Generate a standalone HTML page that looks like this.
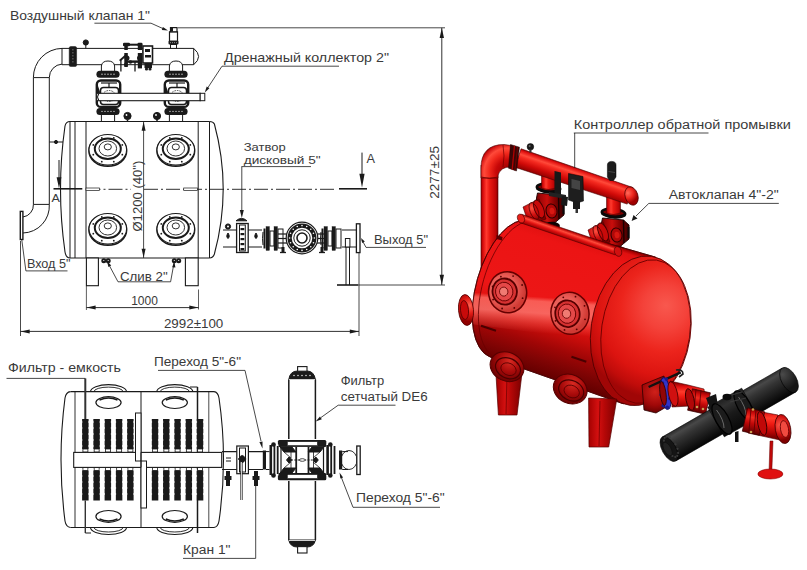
<!DOCTYPE html>
<html><head><meta charset="utf-8"><style>
html,body{margin:0;padding:0;background:#fff;overflow:hidden}
svg{display:block}
text{font-family:"Liberation Sans",sans-serif;fill:#3a3a3a}
</style></head><body>
<svg width="807" height="570" viewBox="0 0 807 570">
<defs><linearGradient id="gv" gradientUnits="userSpaceOnUse" x1="481.0" y1="0.0" x2="498.0" y2="0.0"><stop offset="0" stop-color="#a00000"/><stop offset="0.12" stop-color="#d80c0c"/><stop offset="0.32" stop-color="#ff3a2e"/><stop offset="0.5" stop-color="#ea1a12"/><stop offset="0.85" stop-color="#c00606"/><stop offset="1" stop-color="#880000"/></linearGradient>
<radialGradient id="gel" gradientUnits="userSpaceOnUse" cx="508" cy="172" r="30"><stop offset="0" stop-color="#900000"/><stop offset="0.4" stop-color="#c80808"/><stop offset="0.62" stop-color="#f0281c"/><stop offset="0.8" stop-color="#ff4a3a"/><stop offset="0.95" stop-color="#d01010"/><stop offset="1" stop-color="#a00000"/></radialGradient>
<linearGradient id="rln" gradientUnits="userSpaceOnUse" x1="541.5" y1="0.0" x2="555.5" y2="0.0"><stop offset="0" stop-color="#a00000"/><stop offset="0.12" stop-color="#d80c0c"/><stop offset="0.32" stop-color="#ff3a2e"/><stop offset="0.5" stop-color="#ea1a12"/><stop offset="0.85" stop-color="#c00606"/><stop offset="1" stop-color="#880000"/></linearGradient>
<linearGradient id="rlb" gradientUnits="userSpaceOnUse" x1="534.5" y1="0.0" x2="564.5" y2="0.0"><stop offset="0" stop-color="#5a0000"/><stop offset="0.2" stop-color="#a00606"/><stop offset="0.42" stop-color="#c80e0c"/><stop offset="0.65" stop-color="#8a0202"/><stop offset="1" stop-color="#380000"/></linearGradient>
<linearGradient id="rrn" gradientUnits="userSpaceOnUse" x1="606.5" y1="0.0" x2="620.5" y2="0.0"><stop offset="0" stop-color="#a00000"/><stop offset="0.12" stop-color="#d80c0c"/><stop offset="0.32" stop-color="#ff3a2e"/><stop offset="0.5" stop-color="#ea1a12"/><stop offset="0.85" stop-color="#c00606"/><stop offset="1" stop-color="#880000"/></linearGradient>
<linearGradient id="rrb" gradientUnits="userSpaceOnUse" x1="599.5" y1="0.0" x2="629.5" y2="0.0"><stop offset="0" stop-color="#5a0000"/><stop offset="0.2" stop-color="#a00606"/><stop offset="0.42" stop-color="#c80e0c"/><stop offset="0.65" stop-color="#8a0202"/><stop offset="1" stop-color="#380000"/></linearGradient>
<radialGradient id="gstub" gradientUnits="userSpaceOnUse" cx="532" cy="208" r="14"><stop offset="0" stop-color="#ff5040"/><stop offset="0.5" stop-color="#d01010"/><stop offset="1" stop-color="#800000"/></radialGradient>
<radialGradient id="gstub2" gradientUnits="userSpaceOnUse" cx="596" cy="231" r="14"><stop offset="0" stop-color="#ff5040"/><stop offset="0.5" stop-color="#d01010"/><stop offset="1" stop-color="#800000"/></radialGradient>
<linearGradient id="gman" gradientUnits="userSpaceOnUse" x1="521.1" y1="148.8" x2="514.9" y2="167.2"><stop offset="0" stop-color="#a00000"/><stop offset="0.1" stop-color="#e01010"/><stop offset="0.28" stop-color="#ff4a3a"/><stop offset="0.42" stop-color="#f42a20"/><stop offset="0.7" stop-color="#d00a08"/><stop offset="1" stop-color="#900000"/></linearGradient>
<radialGradient id="gcap" gradientUnits="userSpaceOnUse" cx="629" cy="192" r="10"><stop offset="0" stop-color="#ff6a5a"/><stop offset="0.5" stop-color="#f02a20"/><stop offset="1" stop-color="#a00000"/></radialGradient>
<linearGradient id="gbody" gradientUnits="userSpaceOnUse" x1="592.4" y1="239.0" x2="548.8" y2="377.6"><stop offset="0" stop-color="#a00000"/><stop offset="0.025" stop-color="#e01010"/><stop offset="0.1" stop-color="#ec1414"/><stop offset="0.5" stop-color="#ec1616"/><stop offset="0.6" stop-color="#e01210"/><stop offset="0.7" stop-color="#c40c0a"/><stop offset="0.8" stop-color="#a00606"/><stop offset="0.9" stop-color="#800404"/><stop offset="1" stop-color="#640000"/></linearGradient>
<clipPath id="cbody"><path d="M529.1,220.7 L655.7,257.2 L623.5,403.8 L490.2,357.0 A34.5,70.9 15.4 0 1 529.1,220.7 Z"/></clipPath>
<linearGradient id="gstreak" gradientUnits="userSpaceOnUse" x1="540" y1="297" x2="537.5" y2="333"><stop offset="0" stop-color="#ff7a70" stop-opacity="0"/><stop offset="0.12" stop-color="#ff7a70" stop-opacity="0.7"/><stop offset="0.45" stop-color="#ff8078" stop-opacity="0.75"/><stop offset="0.75" stop-color="#ff6a60" stop-opacity="0.35"/><stop offset="1" stop-color="#ff6a60" stop-opacity="0"/></linearGradient>
<radialGradient id="gcapR" gradientUnits="userSpaceOnUse" cx="660" cy="308" r="88" fx="662" fy="302"><stop offset="0" stop-color="#f8584e"/><stop offset="0.25" stop-color="#f4423a"/><stop offset="0.5" stop-color="#ec241c"/><stop offset="0.75" stop-color="#dc1410"/><stop offset="0.9" stop-color="#c00c0a"/><stop offset="1" stop-color="#a00606"/></radialGradient>
<linearGradient id="gcol" gradientUnits="userSpaceOnUse" x1="522.4" y1="214.5" x2="519.6" y2="222.5"><stop offset="0" stop-color="#b00000"/><stop offset="0.3" stop-color="#ff4a3a"/><stop offset="0.6" stop-color="#e01010"/><stop offset="1" stop-color="#900000"/></linearGradient>
<radialGradient id="gmh1" gradientUnits="userSpaceOnUse" cx="503.6" cy="288.3" r="22"><stop offset="0" stop-color="#f27a74"/><stop offset="0.6" stop-color="#ea5c56"/><stop offset="1" stop-color="#d03a34"/></radialGradient>
<radialGradient id="gmh2" gradientUnits="userSpaceOnUse" cx="566" cy="309.3" r="22"><stop offset="0" stop-color="#f27a74"/><stop offset="0.6" stop-color="#ea5c56"/><stop offset="1" stop-color="#d03a34"/></radialGradient>
<linearGradient id="gleg" gradientUnits="userSpaceOnUse" x1="496.0" y1="0.0" x2="522.0" y2="0.0"><stop offset="0" stop-color="#a00000"/><stop offset="0.35" stop-color="#d41010"/><stop offset="0.55" stop-color="#b80808"/><stop offset="1" stop-color="#7a0000"/></linearGradient>
<linearGradient id="gleg2" gradientUnits="userSpaceOnUse" x1="588.0" y1="0.0" x2="617.0" y2="0.0"><stop offset="0" stop-color="#a00000"/><stop offset="0.35" stop-color="#d41010"/><stop offset="0.55" stop-color="#b80808"/><stop offset="1" stop-color="#7a0000"/></linearGradient>
<radialGradient id="glm1" gradientUnits="userSpaceOnUse" cx="507" cy="360.7" r="22"><stop offset="0" stop-color="#d82a22"/><stop offset="0.5" stop-color="#a80a0a"/><stop offset="1" stop-color="#600000"/></radialGradient>
<radialGradient id="glm2" gradientUnits="userSpaceOnUse" cx="570.2" cy="383" r="22"><stop offset="0" stop-color="#d82a22"/><stop offset="0.5" stop-color="#a80a0a"/><stop offset="1" stop-color="#600000"/></radialGradient>
<radialGradient id="gin" gradientUnits="userSpaceOnUse" cx="470" cy="306" r="16"><stop offset="0" stop-color="#ff6050"/><stop offset="0.5" stop-color="#e01a14"/><stop offset="1" stop-color="#900000"/></radialGradient>
<radialGradient id="gout" gradientUnits="userSpaceOnUse" cx="655" cy="392" r="22"><stop offset="0" stop-color="#d0201a"/><stop offset="0.6" stop-color="#a00808"/><stop offset="1" stop-color="#600000"/></radialGradient>
<linearGradient id="gop1" gradientUnits="userSpaceOnUse" x1="0.0" y1="383.0" x2="0.0" y2="408.0"><stop offset="0" stop-color="#900000"/><stop offset="0.15" stop-color="#e01010"/><stop offset="0.35" stop-color="#ff3a2a"/><stop offset="0.55" stop-color="#f01a12"/><stop offset="0.85" stop-color="#b00404"/><stop offset="1" stop-color="#800000"/></linearGradient>
<linearGradient id="gcpl1" gradientUnits="userSpaceOnUse" x1="692.4" y1="388.8" x2="687.6" y2="410.2"><stop offset="0" stop-color="#800000"/><stop offset="0.15" stop-color="#c80a0a"/><stop offset="0.35" stop-color="#f02a20"/><stop offset="0.6" stop-color="#c00808"/><stop offset="1" stop-color="#600000"/></linearGradient>
<linearGradient id="gfilt" gradientUnits="userSpaceOnUse" x1="662.1" y1="437.1" x2="675.9" y2="460.9"><stop offset="0" stop-color="#2a2a2a"/><stop offset="0.15" stop-color="#484848"/><stop offset="0.35" stop-color="#343434"/><stop offset="0.65" stop-color="#1e1e1e"/><stop offset="0.9" stop-color="#0c0c0c"/><stop offset="1" stop-color="#050505"/></linearGradient>
<radialGradient id="gfe" gradientUnits="userSpaceOnUse" cx="786" cy="372" r="16"><stop offset="0" stop-color="#4a4a4a"/><stop offset="0.6" stop-color="#2a2a2a"/><stop offset="1" stop-color="#151515"/></radialGradient>
<linearGradient id="ghub" gradientUnits="userSpaceOnUse" x1="707.7" y1="407.2" x2="724.3" y2="436.8"><stop offset="0" stop-color="#202020"/><stop offset="0.2" stop-color="#303030"/><stop offset="0.5" stop-color="#1a1a1a"/><stop offset="1" stop-color="#080808"/></linearGradient>
<linearGradient id="gop2" gradientUnits="userSpaceOnUse" x1="0.0" y1="408.0" x2="0.0" y2="437.0"><stop offset="0" stop-color="#900000"/><stop offset="0.15" stop-color="#e01010"/><stop offset="0.35" stop-color="#ff3a2a"/><stop offset="0.55" stop-color="#f01a12"/><stop offset="0.85" stop-color="#b00404"/><stop offset="1" stop-color="#800000"/></linearGradient>
<linearGradient id="gcpl2" gradientUnits="userSpaceOnUse" x1="747.7" y1="407.8" x2="742.3" y2="431.2"><stop offset="0" stop-color="#800000"/><stop offset="0.15" stop-color="#c80a0a"/><stop offset="0.35" stop-color="#f02a20"/><stop offset="0.6" stop-color="#c00808"/><stop offset="1" stop-color="#600000"/></linearGradient>
<radialGradient id="gfl" gradientUnits="userSpaceOnUse" cx="781" cy="425" r="15"><stop offset="0" stop-color="#ff5a4a"/><stop offset="0.6" stop-color="#d01010"/><stop offset="1" stop-color="#800000"/></radialGradient></defs>
<g id="side">
<path d="M33.4,77.6 L33.4,204.4 M49.3,77.6 L49.3,204.4 M33.4,77.6 L49.3,77.6 M33.4,204.4 L49.3,204.4" stroke="#1a1a1a" stroke-width="1" fill="none"/>
<path d="M33.4,77.6 A29,29 0 0 1 62,48.4 M49.3,77.6 A13.5,13.5 0 0 1 62,64.1" stroke="#1a1a1a" stroke-width="1" fill="none"/>
<path d="M33.4,204.4 A12,12 0 0 1 22.9,217 M49.3,204.4 A27,27 0 0 1 22.9,233" stroke="#1a1a1a" stroke-width="1" fill="none"/>
<rect x="20.3" y="211.4" width="2.6" height="28.1" fill="#fff" stroke="#1a1a1a" stroke-width="1.4"/>
<line x1="49.3" y1="142" x2="63" y2="142" stroke="#1a1a1a" stroke-width="1"/>
<circle cx="56" cy="142" r="1.6" fill="#1a1a1a" stroke="#1a1a1a" stroke-width="1"/>
<path d="M62,48.4 L193.7,48.4 M62,64.7 L193.7,64.7 M62,48.4 L62,64.7 M193.7,48.4 L193.7,64.7 M193.7,48.4 Q203.5,56.5 193.7,64.7" stroke="#1a1a1a" stroke-width="1" fill="none"/>
<rect x="69.2" y="46.5" width="7.4" height="20" fill="#1a1a1a" stroke="#1a1a1a" stroke-width="0.5" rx="1.5"/>
<line x1="72.9" y1="49" x2="72.9" y2="64" stroke="#888" stroke-width="0.8" stroke-dasharray="1.5,1.5"/>
<line x1="85.8" y1="44" x2="85.8" y2="48.4" stroke="#1a1a1a" stroke-width="1"/>
<circle cx="85.8" cy="42.5" r="2.6" fill="#1a1a1a" stroke="#1a1a1a" stroke-width="1"/>
<rect x="169.5" y="31.8" width="8" height="9.5" fill="#fff" stroke="#1a1a1a" stroke-width="1.2"/>
<rect x="168.5" y="40.8" width="10" height="3.8" fill="#1a1a1a" stroke="#1a1a1a" stroke-width="0" rx="1"/>
<circle cx="170.5" cy="42.7" r="0.45" fill="#fff" stroke="none" stroke-width="1"/>
<circle cx="172.5" cy="42.7" r="0.45" fill="#fff" stroke="none" stroke-width="1"/>
<circle cx="174.5" cy="42.7" r="0.45" fill="#fff" stroke="none" stroke-width="1"/>
<circle cx="176.5" cy="42.7" r="0.45" fill="#fff" stroke="none" stroke-width="1"/>
<rect x="170.5" y="44.5" width="6" height="3.9" fill="#fff" stroke="#1a1a1a" stroke-width="1"/>
<rect x="170.5" y="27.6" width="6.5" height="4.2" fill="#fff" stroke="#1a1a1a" stroke-width="1.2"/>
<rect x="170.5" y="28" width="2.5" height="3.5" fill="#1a1a1a" stroke="#1a1a1a" stroke-width="0"/>
<line x1="178" y1="27.8" x2="445" y2="27.8" stroke="#1a1a1a" stroke-width="0.8"/>
<path d="M94.4,23.2 L151,23.2 L165,29.5" stroke="#1a1a1a" stroke-width="0.8" fill="none"/>
<path d="M168.0,30.6 L161.8,30.1 L162.9,27.0Z" fill="#1a1a1a"/>
<rect x="123.2" y="43.7" width="19" height="2" fill="#1a1a1a" stroke="#1a1a1a" stroke-width="0"/>
<rect x="123" y="42.8" width="7" height="3.5" fill="#1a1a1a" stroke="#1a1a1a" stroke-width="0" rx="1.2"/>
<rect x="137.5" y="42.8" width="5" height="3.5" fill="#1a1a1a" stroke="#1a1a1a" stroke-width="0" rx="1.2"/>
<rect x="124.3" y="45" width="3.5" height="5" fill="#1a1a1a" stroke="#1a1a1a" stroke-width="0"/>
<rect x="124.3" y="53" width="3.5" height="14" fill="#1a1a1a" stroke="#1a1a1a" stroke-width="0"/>
<rect x="137.8" y="45" width="4.2" height="5" fill="#1a1a1a" stroke="#1a1a1a" stroke-width="0"/>
<rect x="137.8" y="53" width="4.2" height="15.4" fill="#1a1a1a" stroke="#1a1a1a" stroke-width="0"/>
<rect x="142.9" y="46" width="9.6" height="17" fill="#fff" stroke="#1a1a1a" stroke-width="1.6"/>
<rect x="145" y="49" width="5" height="3" fill="#1a1a1a" stroke="#1a1a1a" stroke-width="0"/>
<rect x="145" y="55" width="6" height="2.5" fill="#1a1a1a" stroke="#1a1a1a" stroke-width="0"/>
<rect x="144.5" y="63" width="7.5" height="5" fill="#1a1a1a" stroke="#1a1a1a" stroke-width="0"/>
<circle cx="146.5" cy="69" r="1.6" fill="#1a1a1a" stroke="none" stroke-width="1"/>
<circle cx="150" cy="69" r="1.6" fill="#1a1a1a" stroke="none" stroke-width="1"/>
<rect x="125" y="60.4" width="17" height="2.4" fill="#1a1a1a" stroke="#1a1a1a" stroke-width="0"/>
<path d="M119.7,60.7 L125.9,55.3" stroke="#1a1a1a" stroke-width="1.8" fill="none"/>
<line x1="120.9" y1="60" x2="120.9" y2="71.5" stroke="#1a1a1a" stroke-width="1.3"/>
<line x1="135" y1="62" x2="135" y2="71.5" stroke="#1a1a1a" stroke-width="1.3"/>
<circle cx="127" cy="58" r="2.5" fill="#1a1a1a" stroke="none" stroke-width="1"/>
<circle cx="139.5" cy="58" r="2.5" fill="#1a1a1a" stroke="none" stroke-width="1"/>
<circle cx="126" cy="64.5" r="2" fill="#1a1a1a" stroke="none" stroke-width="1"/>
<circle cx="140" cy="65.5" r="2" fill="#1a1a1a" stroke="none" stroke-width="1"/>
<circle cx="130.5" cy="62" r="1.8" fill="#1a1a1a" stroke="none" stroke-width="1"/>
<path d="M101.4,71.4 L101.4,66 Q102,61 108,61 Q114,61 114.6,66 L114.6,71.4" stroke="#1a1a1a" stroke-width="1" fill="#fff"/>
<rect x="96.4" y="70.8" width="23.2" height="7" fill="#1a1a1a" stroke="#1a1a1a" stroke-width="0" rx="3.5"/>
<circle cx="102" cy="74.2" r="0.6" fill="#fff" stroke="none" stroke-width="1"/>
<circle cx="105" cy="74.2" r="0.6" fill="#fff" stroke="none" stroke-width="1"/>
<circle cx="108" cy="74.2" r="0.6" fill="#fff" stroke="none" stroke-width="1"/>
<circle cx="111" cy="74.2" r="0.6" fill="#fff" stroke="none" stroke-width="1"/>
<circle cx="114" cy="74.2" r="0.6" fill="#fff" stroke="none" stroke-width="1"/>
<rect x="96.8" y="80.5" width="23.4" height="26.4" fill="#fff" stroke="#1a1a1a" stroke-width="2.4" rx="4"/>
<path d="M97,86 L99,92 L97,100" stroke="#1a1a1a" stroke-width="2" fill="none"/>
<line x1="101" y1="83" x2="117" y2="83" stroke="#1a1a1a" stroke-width="1.2"/>
<line x1="109" y1="83" x2="109" y2="88" stroke="#1a1a1a" stroke-width="1.2"/>
<rect x="100.5" y="87.5" width="18" height="17" fill="#fff" stroke="#1a1a1a" stroke-width="1.5" rx="3"/>
<ellipse cx="109" cy="96" rx="6.5" ry="5.5" fill="none" stroke="#1a1a1a" stroke-width="0.8" stroke-dasharray="1.5,1"/>
<rect x="96.4" y="108" width="23.2" height="7" fill="#1a1a1a" stroke="#1a1a1a" stroke-width="0" rx="3.5"/>
<circle cx="102" cy="111.3" r="0.6" fill="#fff" stroke="none" stroke-width="1"/>
<circle cx="105" cy="111.3" r="0.6" fill="#fff" stroke="none" stroke-width="1"/>
<circle cx="108" cy="111.3" r="0.6" fill="#fff" stroke="none" stroke-width="1"/>
<circle cx="111" cy="111.3" r="0.6" fill="#fff" stroke="none" stroke-width="1"/>
<circle cx="114" cy="111.3" r="0.6" fill="#fff" stroke="none" stroke-width="1"/>
<path d="M101.4,114.2 L101.4,121.5 M114.6,114.2 L114.6,121.5" stroke="#1a1a1a" stroke-width="1" fill="none"/>
<path d="M169.4,71.4 L169.4,66 Q170,61 176,61 Q182,61 182.6,66 L182.6,71.4" stroke="#1a1a1a" stroke-width="1" fill="#fff"/>
<rect x="164.4" y="70.8" width="23.2" height="7" fill="#1a1a1a" stroke="#1a1a1a" stroke-width="0" rx="3.5"/>
<circle cx="170" cy="74.2" r="0.6" fill="#fff" stroke="none" stroke-width="1"/>
<circle cx="173" cy="74.2" r="0.6" fill="#fff" stroke="none" stroke-width="1"/>
<circle cx="176" cy="74.2" r="0.6" fill="#fff" stroke="none" stroke-width="1"/>
<circle cx="179" cy="74.2" r="0.6" fill="#fff" stroke="none" stroke-width="1"/>
<circle cx="182" cy="74.2" r="0.6" fill="#fff" stroke="none" stroke-width="1"/>
<rect x="164.8" y="80.5" width="23.4" height="26.4" fill="#fff" stroke="#1a1a1a" stroke-width="2.4" rx="4"/>
<path d="M165,86 L167,92 L165,100" stroke="#1a1a1a" stroke-width="2" fill="none"/>
<line x1="169" y1="83" x2="185" y2="83" stroke="#1a1a1a" stroke-width="1.2"/>
<line x1="177" y1="83" x2="177" y2="88" stroke="#1a1a1a" stroke-width="1.2"/>
<rect x="168.5" y="87.5" width="18" height="17" fill="#fff" stroke="#1a1a1a" stroke-width="1.5" rx="3"/>
<ellipse cx="177" cy="96" rx="6.5" ry="5.5" fill="none" stroke="#1a1a1a" stroke-width="0.8" stroke-dasharray="1.5,1"/>
<rect x="164.4" y="108" width="23.2" height="7" fill="#1a1a1a" stroke="#1a1a1a" stroke-width="0" rx="3.5"/>
<circle cx="170" cy="111.3" r="0.6" fill="#fff" stroke="none" stroke-width="1"/>
<circle cx="173" cy="111.3" r="0.6" fill="#fff" stroke="none" stroke-width="1"/>
<circle cx="176" cy="111.3" r="0.6" fill="#fff" stroke="none" stroke-width="1"/>
<circle cx="179" cy="111.3" r="0.6" fill="#fff" stroke="none" stroke-width="1"/>
<circle cx="182" cy="111.3" r="0.6" fill="#fff" stroke="none" stroke-width="1"/>
<path d="M169.4,114.2 L169.4,121.5 M182.6,114.2 L182.6,121.5" stroke="#1a1a1a" stroke-width="1" fill="none"/>
<rect x="96.7" y="93.3" width="103.5" height="7.4" fill="#fff" stroke="#1a1a1a" stroke-width="1.1"/>
<rect x="200.2" y="93.3" width="4.6" height="7.4" fill="#fff" stroke="#1a1a1a" stroke-width="1"/>
<path d="M99,93.3 Q96,97 99,100.7" stroke="#1a1a1a" stroke-width="1" fill="none"/>
<path d="M339,66.2 L222,66.2 L207,89" stroke="#1a1a1a" stroke-width="0.8" fill="none"/>
<path d="M204.8,92.5 L206.7,86.6 L209.4,88.3Z" fill="#1a1a1a"/>
<circle cx="127.5" cy="116" r="3.6" fill="#1a1a1a" stroke="#1a1a1a" stroke-width="1"/>
<circle cx="126.5" cy="115" r="0.9" fill="#fff" stroke="none" stroke-width="1"/>
<line x1="127.5" y1="119.5" x2="127.5" y2="121.5" stroke="#1a1a1a" stroke-width="1.5"/>
<circle cx="157" cy="116" r="3.6" fill="#1a1a1a" stroke="#1a1a1a" stroke-width="1"/>
<circle cx="156" cy="115" r="0.9" fill="#fff" stroke="none" stroke-width="1"/>
<line x1="157" y1="119.5" x2="157" y2="121.5" stroke="#1a1a1a" stroke-width="1.5"/>
<path d="M70,121.5 L209.5,121.5 M70,258 L209.5,258" stroke="#1a1a1a" stroke-width="1.1" fill="none"/>
<path d="M70,121.5 Q66,121.5 65,126 Q56,189 65,252 Q66,258 70,258" stroke="#1a1a1a" stroke-width="1.1" fill="none"/>
<path d="M209.5,121.5 Q213,121.5 214.4,124 Q232,189 214.4,254 Q213,258 209.5,258" stroke="#1a1a1a" stroke-width="1.1" fill="none"/>
<line x1="70" y1="121.5" x2="70" y2="258" stroke="#1a1a1a" stroke-width="1"/>
<line x1="75" y1="121.5" x2="75" y2="258" stroke="#1a1a1a" stroke-width="1"/>
<line x1="86" y1="121.5" x2="86" y2="258" stroke="#1a1a1a" stroke-width="1"/>
<line x1="198.2" y1="121.5" x2="198.2" y2="258" stroke="#1a1a1a" stroke-width="1"/>
<line x1="209.5" y1="121.5" x2="209.5" y2="258" stroke="#1a1a1a" stroke-width="1"/>
<line x1="86.5" y1="189.3" x2="131" y2="189.3" stroke="#1a1a1a" stroke-width="0.9" stroke-dasharray="14,3,2,3"/>
<line x1="144" y1="189.3" x2="335" y2="189.3" stroke="#1a1a1a" stroke-width="0.9" stroke-dasharray="14,3,2,3"/>
<line x1="53.5" y1="188.8" x2="82.3" y2="188.8" stroke="#1a1a1a" stroke-width="1.6"/>
<line x1="339" y1="188.8" x2="367" y2="188.8" stroke="#1a1a1a" stroke-width="1.6"/>
<rect x="86" y="188" width="13.5" height="2.5" fill="#fff" stroke="#1a1a1a" stroke-width="0.7"/>
<rect x="183.7" y="188" width="13.7" height="2.5" fill="#fff" stroke="#1a1a1a" stroke-width="0.7"/>
<line x1="59" y1="160" x2="59" y2="178" stroke="#1a1a1a" stroke-width="1"/>
<path d="M59.0,188.3 L56.6,177.3 L61.4,177.3Z" fill="#1a1a1a"/>
<line x1="362" y1="152.6" x2="362" y2="176" stroke="#1a1a1a" stroke-width="1"/>
<path d="M362.0,187.7 L359.4,173.7 L364.6,173.7Z" fill="#1a1a1a"/>
<ellipse cx="107.8" cy="151.0" rx="18.8" ry="15.3" fill="#fff" stroke="#1a1a1a" stroke-width="1.6"/>
<ellipse cx="107.8" cy="149.8" rx="18.8" ry="15.3" fill="#fff" stroke="#1a1a1a" stroke-width="1.1"/>
<ellipse cx="107.8" cy="148.7" rx="13" ry="10.3" fill="none" stroke="#1a1a1a" stroke-width="2"/>
<ellipse cx="107.8" cy="148.5" rx="8.8" ry="7.5" fill="none" stroke="#1a1a1a" stroke-width="0.9"/>
<ellipse cx="107.8" cy="146.9" rx="3.6" ry="3" fill="none" stroke="#1a1a1a" stroke-width="0.9"/>
<circle cx="122.3049086604272" cy="154.69834793427316" r="0.9" fill="#1a1a1a" stroke="none" stroke-width="1"/>
<circle cx="113.8081298881319" cy="161.62565801614448" r="0.9" fill="#1a1a1a" stroke="none" stroke-width="1"/>
<circle cx="101.79187011186809" cy="161.62565801614448" r="0.9" fill="#1a1a1a" stroke="none" stroke-width="1"/>
<circle cx="93.29509133957279" cy="154.69834793427316" r="0.9" fill="#1a1a1a" stroke="none" stroke-width="1"/>
<circle cx="93.29509133957279" cy="144.90165206572686" r="0.9" fill="#1a1a1a" stroke="none" stroke-width="1"/>
<circle cx="101.79187011186809" cy="137.97434198385554" r="0.9" fill="#1a1a1a" stroke="none" stroke-width="1"/>
<circle cx="113.80812988813192" cy="137.97434198385554" r="0.9" fill="#1a1a1a" stroke="none" stroke-width="1"/>
<circle cx="122.3049086604272" cy="144.90165206572686" r="0.9" fill="#1a1a1a" stroke="none" stroke-width="1"/>
<ellipse cx="107.8" cy="230.0" rx="18.8" ry="15.3" fill="#fff" stroke="#1a1a1a" stroke-width="1.6"/>
<ellipse cx="107.8" cy="228.8" rx="18.8" ry="15.3" fill="#fff" stroke="#1a1a1a" stroke-width="1.1"/>
<ellipse cx="107.8" cy="227.7" rx="13" ry="10.3" fill="none" stroke="#1a1a1a" stroke-width="2"/>
<ellipse cx="107.8" cy="227.5" rx="8.8" ry="7.5" fill="none" stroke="#1a1a1a" stroke-width="0.9"/>
<ellipse cx="107.8" cy="225.9" rx="3.6" ry="3" fill="none" stroke="#1a1a1a" stroke-width="0.9"/>
<circle cx="122.3049086604272" cy="233.69834793427316" r="0.9" fill="#1a1a1a" stroke="none" stroke-width="1"/>
<circle cx="113.8081298881319" cy="240.62565801614448" r="0.9" fill="#1a1a1a" stroke="none" stroke-width="1"/>
<circle cx="101.79187011186809" cy="240.62565801614448" r="0.9" fill="#1a1a1a" stroke="none" stroke-width="1"/>
<circle cx="93.29509133957279" cy="233.69834793427316" r="0.9" fill="#1a1a1a" stroke="none" stroke-width="1"/>
<circle cx="93.29509133957279" cy="223.90165206572686" r="0.9" fill="#1a1a1a" stroke="none" stroke-width="1"/>
<circle cx="101.79187011186809" cy="216.97434198385554" r="0.9" fill="#1a1a1a" stroke="none" stroke-width="1"/>
<circle cx="113.80812988813192" cy="216.97434198385554" r="0.9" fill="#1a1a1a" stroke="none" stroke-width="1"/>
<circle cx="122.3049086604272" cy="223.90165206572686" r="0.9" fill="#1a1a1a" stroke="none" stroke-width="1"/>
<ellipse cx="175.8" cy="151.0" rx="18.8" ry="15.3" fill="#fff" stroke="#1a1a1a" stroke-width="1.6"/>
<ellipse cx="175.8" cy="149.8" rx="18.8" ry="15.3" fill="#fff" stroke="#1a1a1a" stroke-width="1.1"/>
<ellipse cx="175.8" cy="148.7" rx="13" ry="10.3" fill="none" stroke="#1a1a1a" stroke-width="2"/>
<ellipse cx="175.8" cy="148.5" rx="8.8" ry="7.5" fill="none" stroke="#1a1a1a" stroke-width="0.9"/>
<ellipse cx="175.8" cy="146.9" rx="3.6" ry="3" fill="none" stroke="#1a1a1a" stroke-width="0.9"/>
<circle cx="190.3049086604272" cy="154.69834793427316" r="0.9" fill="#1a1a1a" stroke="none" stroke-width="1"/>
<circle cx="181.80812988813193" cy="161.62565801614448" r="0.9" fill="#1a1a1a" stroke="none" stroke-width="1"/>
<circle cx="169.7918701118681" cy="161.62565801614448" r="0.9" fill="#1a1a1a" stroke="none" stroke-width="1"/>
<circle cx="161.29509133957282" cy="154.69834793427316" r="0.9" fill="#1a1a1a" stroke="none" stroke-width="1"/>
<circle cx="161.29509133957282" cy="144.90165206572686" r="0.9" fill="#1a1a1a" stroke="none" stroke-width="1"/>
<circle cx="169.7918701118681" cy="137.97434198385554" r="0.9" fill="#1a1a1a" stroke="none" stroke-width="1"/>
<circle cx="181.80812988813193" cy="137.97434198385554" r="0.9" fill="#1a1a1a" stroke="none" stroke-width="1"/>
<circle cx="190.3049086604272" cy="144.90165206572686" r="0.9" fill="#1a1a1a" stroke="none" stroke-width="1"/>
<ellipse cx="175.8" cy="230.0" rx="18.8" ry="15.3" fill="#fff" stroke="#1a1a1a" stroke-width="1.6"/>
<ellipse cx="175.8" cy="228.8" rx="18.8" ry="15.3" fill="#fff" stroke="#1a1a1a" stroke-width="1.1"/>
<ellipse cx="175.8" cy="227.7" rx="13" ry="10.3" fill="none" stroke="#1a1a1a" stroke-width="2"/>
<ellipse cx="175.8" cy="227.5" rx="8.8" ry="7.5" fill="none" stroke="#1a1a1a" stroke-width="0.9"/>
<ellipse cx="175.8" cy="225.9" rx="3.6" ry="3" fill="none" stroke="#1a1a1a" stroke-width="0.9"/>
<circle cx="190.3049086604272" cy="233.69834793427316" r="0.9" fill="#1a1a1a" stroke="none" stroke-width="1"/>
<circle cx="181.80812988813193" cy="240.62565801614448" r="0.9" fill="#1a1a1a" stroke="none" stroke-width="1"/>
<circle cx="169.7918701118681" cy="240.62565801614448" r="0.9" fill="#1a1a1a" stroke="none" stroke-width="1"/>
<circle cx="161.29509133957282" cy="233.69834793427316" r="0.9" fill="#1a1a1a" stroke="none" stroke-width="1"/>
<circle cx="161.29509133957282" cy="223.90165206572686" r="0.9" fill="#1a1a1a" stroke="none" stroke-width="1"/>
<circle cx="169.7918701118681" cy="216.97434198385554" r="0.9" fill="#1a1a1a" stroke="none" stroke-width="1"/>
<circle cx="181.80812988813193" cy="216.97434198385554" r="0.9" fill="#1a1a1a" stroke="none" stroke-width="1"/>
<circle cx="190.3049086604272" cy="223.90165206572686" r="0.9" fill="#1a1a1a" stroke="none" stroke-width="1"/>
<line x1="143.6" y1="121.5" x2="143.6" y2="258" stroke="#1a1a1a" stroke-width="0.8"/>
<path d="M143.6,121.8 L145.6,130.8 L141.6,130.8Z" fill="#1a1a1a"/>
<path d="M143.6,257.7 L141.6,248.7 L145.6,248.7Z" fill="#1a1a1a"/>
<rect x="86.4" y="258" width="12" height="27.7" fill="#fff" stroke="#1a1a1a" stroke-width="1.1"/>
<rect x="185.4" y="258" width="12.8" height="27.7" fill="#fff" stroke="#1a1a1a" stroke-width="1.1"/>
<circle cx="103.8" cy="260.8" r="2.5" fill="#1a1a1a" stroke="none" stroke-width="1"/>
<circle cx="108.2" cy="260.8" r="2.5" fill="#1a1a1a" stroke="none" stroke-width="1"/>
<circle cx="103.8" cy="260.5" r="0.6" fill="#fff" stroke="none" stroke-width="1"/>
<circle cx="108.2" cy="260.5" r="0.6" fill="#fff" stroke="none" stroke-width="1"/>
<circle cx="174.3" cy="260.8" r="2.5" fill="#1a1a1a" stroke="none" stroke-width="1"/>
<circle cx="178.7" cy="260.8" r="2.5" fill="#1a1a1a" stroke="none" stroke-width="1"/>
<circle cx="174.3" cy="260.5" r="0.6" fill="#fff" stroke="none" stroke-width="1"/>
<circle cx="178.7" cy="260.5" r="0.6" fill="#fff" stroke="none" stroke-width="1"/>
<path d="M108,263 L118,281.8 L170.6,281.8 L174,263" stroke="#1a1a1a" stroke-width="0.8" fill="none"/>
<path d="M107.0,261.0 L111.2,265.5 L108.4,267.0Z" fill="#1a1a1a"/>
<path d="M174.3,261.5 L175.4,267.6 L172.2,267.3Z" fill="#1a1a1a"/>
<path d="M21.8,240 L25.9,270.9 L67.5,270.9" stroke="#1a1a1a" stroke-width="0.8" fill="none"/>
<line x1="86.4" y1="286" x2="86.4" y2="310" stroke="#1a1a1a" stroke-width="0.7"/>
<line x1="198.5" y1="289.5" x2="198.5" y2="309.5" stroke="#1a1a1a" stroke-width="0.7"/>
<line x1="86.4" y1="307.6" x2="198.5" y2="307.6" stroke="#1a1a1a" stroke-width="0.9"/>
<path d="M86.6,307.6 L95.6,305.6 L95.6,309.6Z" fill="#1a1a1a"/>
<path d="M198.3,307.6 L189.3,309.6 L189.3,305.6Z" fill="#1a1a1a"/>
<line x1="20.5" y1="241" x2="20.5" y2="336" stroke="#1a1a1a" stroke-width="0.8"/>
<line x1="359" y1="253" x2="359" y2="336" stroke="#1a1a1a" stroke-width="0.8"/>
<line x1="20.5" y1="331.4" x2="359" y2="331.4" stroke="#1a1a1a" stroke-width="0.9"/>
<path d="M20.7,331.4 L29.7,329.4 L29.7,333.4Z" fill="#1a1a1a"/>
<path d="M358.8,331.4 L349.8,333.4 L349.8,329.4Z" fill="#1a1a1a"/>
<line x1="441.8" y1="27.8" x2="441.8" y2="285" stroke="#1a1a1a" stroke-width="0.9"/>
<path d="M441.8,28.0 L444.0,38.0 L439.6,38.0Z" fill="#1a1a1a"/>
<path d="M441.8,284.8 L439.6,274.8 L444.0,274.8Z" fill="#1a1a1a"/>
<line x1="358" y1="285" x2="445" y2="285" stroke="#1a1a1a" stroke-width="0.8"/>
<path d="M223,230 L262,230 M223,247 L262,247" stroke="#1a1a1a" stroke-width="1.1" fill="none"/>
<path d="M342,230 L356.5,230 M342,247 L356.5,247" stroke="#1a1a1a" stroke-width="1.1" fill="none"/>
<circle cx="228" cy="226.5" r="2.6" fill="#1a1a1a" stroke="#1a1a1a" stroke-width="1"/>
<circle cx="228" cy="226.5" r="1" fill="#fff" stroke="none" stroke-width="1"/>
<path d="M228,233 Q225.5,237 228,238.5 Q230.5,237 228,233Z" stroke="#1a1a1a" stroke-width="1" fill="#1a1a1a"/>
<path d="M256,233 Q253.5,237 256,238.5 Q258.5,237 256,233Z" stroke="#1a1a1a" stroke-width="1" fill="#1a1a1a"/>
<rect x="236.6" y="223.5" width="11.6" height="29" fill="#fff" stroke="#1a1a1a" stroke-width="1.3"/>
<rect x="239.5" y="225" width="5.8" height="26" fill="#fff" stroke="#1a1a1a" stroke-width="1"/>
<rect x="240.5" y="228" width="3.8" height="2.2" fill="#1a1a1a" stroke="#1a1a1a" stroke-width="0"/>
<rect x="240.5" y="233" width="3.8" height="2.2" fill="#1a1a1a" stroke="#1a1a1a" stroke-width="0"/>
<rect x="240.5" y="238" width="3.8" height="2.2" fill="#1a1a1a" stroke="#1a1a1a" stroke-width="0"/>
<rect x="240.5" y="243" width="3.8" height="2.2" fill="#1a1a1a" stroke="#1a1a1a" stroke-width="0"/>
<rect x="240.5" y="248" width="3.8" height="2.2" fill="#1a1a1a" stroke="#1a1a1a" stroke-width="0"/>
<path d="M236,220.8 Q241.6,216 247,220.8 Z" stroke="#1a1a1a" stroke-width="1" fill="#1a1a1a"/>
<line x1="241.8" y1="166.6" x2="241.8" y2="210" stroke="#1a1a1a" stroke-width="0.8"/>
<path d="M241.8,218.0 L239.8,210.0 L243.8,210.0Z" fill="#1a1a1a"/>
<path d="M241.5,166.6 L311,166.6" stroke="#1a1a1a" stroke-width="0.8" fill="none"/>
<path d="M263,232 Q262,238.5 263,245" stroke="#1a1a1a" stroke-width="1" fill="none"/>
<rect x="263.5" y="228.5" width="2" height="20" fill="#1a1a1a" stroke="#1a1a1a" stroke-width="0"/>
<rect x="266" y="226.5" width="3.5" height="24" fill="#1a1a1a" stroke="#1a1a1a" stroke-width="0.3"/>
<rect x="270" y="231" width="4" height="15" fill="#fff" stroke="#1a1a1a" stroke-width="1"/>
<rect x="274" y="226.5" width="3.5" height="24" fill="#1a1a1a" stroke="#1a1a1a" stroke-width="0.3"/>
<rect x="278" y="229" width="5" height="19" fill="#fff" stroke="#1a1a1a" stroke-width="1"/>
<path d="M321,232 Q320,238.5 321,245" stroke="#1a1a1a" stroke-width="1" fill="none"/>
<rect x="321.5" y="228.5" width="2" height="20" fill="#1a1a1a" stroke="#1a1a1a" stroke-width="0"/>
<rect x="324" y="226.5" width="3.5" height="24" fill="#1a1a1a" stroke="#1a1a1a" stroke-width="0.3"/>
<rect x="328" y="231" width="4" height="15" fill="#fff" stroke="#1a1a1a" stroke-width="1"/>
<rect x="332" y="226.5" width="3.5" height="24" fill="#1a1a1a" stroke="#1a1a1a" stroke-width="0.3"/>
<rect x="336" y="229" width="5" height="19" fill="#fff" stroke="#1a1a1a" stroke-width="1"/>
<line x1="278" y1="234" x2="287" y2="234" stroke="#1a1a1a" stroke-width="1.2"/>
<line x1="317" y1="234" x2="326" y2="234" stroke="#1a1a1a" stroke-width="1.2"/>
<line x1="278" y1="238.5" x2="287" y2="238.5" stroke="#1a1a1a" stroke-width="1.2"/>
<line x1="317" y1="238.5" x2="326" y2="238.5" stroke="#1a1a1a" stroke-width="1.2"/>
<line x1="278" y1="243" x2="287" y2="243" stroke="#1a1a1a" stroke-width="1.2"/>
<line x1="317" y1="243" x2="326" y2="243" stroke="#1a1a1a" stroke-width="1.2"/>
<circle cx="302" cy="238" r="15.8" fill="#fff" stroke="#1a1a1a" stroke-width="1.2"/>
<circle cx="302" cy="238" r="12.4" fill="none" stroke="#1a1a1a" stroke-width="4.2"/>
<circle cx="314.4" cy="238.0" r="0.8" fill="#fff" stroke="none" stroke-width="1"/>
<circle cx="313.45610620313994" cy="242.7452745613271" r="0.8" fill="#fff" stroke="none" stroke-width="1"/>
<circle cx="310.7681240867132" cy="246.7681240867132" r="0.8" fill="#fff" stroke="none" stroke-width="1"/>
<circle cx="306.7452745613271" cy="249.45610620313997" r="0.8" fill="#fff" stroke="none" stroke-width="1"/>
<circle cx="302.0" cy="250.4" r="0.8" fill="#fff" stroke="none" stroke-width="1"/>
<circle cx="297.2547254386729" cy="249.45610620313997" r="0.8" fill="#fff" stroke="none" stroke-width="1"/>
<circle cx="293.2318759132868" cy="246.7681240867132" r="0.8" fill="#fff" stroke="none" stroke-width="1"/>
<circle cx="290.54389379686006" cy="242.7452745613271" r="0.8" fill="#fff" stroke="none" stroke-width="1"/>
<circle cx="289.6" cy="238.0" r="0.8" fill="#fff" stroke="none" stroke-width="1"/>
<circle cx="290.54389379686006" cy="233.2547254386729" r="0.8" fill="#fff" stroke="none" stroke-width="1"/>
<circle cx="293.2318759132868" cy="229.2318759132868" r="0.8" fill="#fff" stroke="none" stroke-width="1"/>
<circle cx="297.2547254386729" cy="226.54389379686003" r="0.8" fill="#fff" stroke="none" stroke-width="1"/>
<circle cx="302.0" cy="225.6" r="0.8" fill="#fff" stroke="none" stroke-width="1"/>
<circle cx="306.7452745613271" cy="226.54389379686003" r="0.8" fill="#fff" stroke="none" stroke-width="1"/>
<circle cx="310.7681240867132" cy="229.2318759132868" r="0.8" fill="#fff" stroke="none" stroke-width="1"/>
<circle cx="313.45610620313994" cy="233.2547254386729" r="0.8" fill="#fff" stroke="none" stroke-width="1"/>
<circle cx="302" cy="238" r="8.2" fill="none" stroke="#1a1a1a" stroke-width="1"/>
<circle cx="302" cy="238" r="5" fill="#fff" stroke="#1a1a1a" stroke-width="1.6"/>
<rect x="281.5" y="247" width="3" height="5" fill="#1a1a1a" stroke="#1a1a1a" stroke-width="0"/>
<line x1="280" y1="252.5" x2="286" y2="252.5" stroke="#1a1a1a" stroke-width="1.3"/>
<rect x="320.5" y="247" width="3" height="5" fill="#1a1a1a" stroke="#1a1a1a" stroke-width="0"/>
<line x1="319" y1="252.5" x2="325" y2="252.5" stroke="#1a1a1a" stroke-width="1.3"/>
<rect x="356.4" y="223.8" width="3.6" height="28.8" fill="#fff" stroke="#1a1a1a" stroke-width="1.3"/>
<rect x="345.4" y="238.5" width="4.5" height="8.5" fill="#fff" stroke="#1a1a1a" stroke-width="1"/>
<line x1="346" y1="247" x2="346" y2="285" stroke="#1a1a1a" stroke-width="1"/>
<line x1="349.5" y1="247" x2="349.5" y2="285" stroke="#1a1a1a" stroke-width="1"/>
<line x1="337" y1="285" x2="358" y2="285" stroke="#1a1a1a" stroke-width="1.6"/>
<path d="M362,240 L366,247.4 L426,247.4" stroke="#1a1a1a" stroke-width="0.8" fill="none"/>
<path d="M361.0,238.0 L364.8,241.6 L362.2,243.1Z" fill="#1a1a1a"/>
</g>
<g id="plan">
<path d="M70.5,391.6 L214,391.6 M70.5,527.5 L214,527.5" stroke="#1a1a1a" stroke-width="1.1" fill="none"/>
<path d="M70.5,391.6 Q66,392 65,398 Q57,459.5 65,521 Q66,527 70.5,527.5" stroke="#1a1a1a" stroke-width="1.1" fill="none"/>
<path d="M214,391.6 Q218,392 219,398 Q228,459.5 219,521 Q218,527 214,527.5" stroke="#1a1a1a" stroke-width="1.1" fill="none"/>
<line x1="75" y1="391.6" x2="75" y2="527.5" stroke="#1a1a1a" stroke-width="0.9"/>
<line x1="141" y1="391.6" x2="141" y2="527.5" stroke="#1a1a1a" stroke-width="1"/>
<line x1="197.5" y1="387" x2="197.5" y2="533" stroke="#1a1a1a" stroke-width="1.5"/>
<line x1="208.8" y1="391.6" x2="208.8" y2="527.5" stroke="#1a1a1a" stroke-width="0.8"/>
<line x1="85.3" y1="378.4" x2="85.3" y2="419.5" stroke="#333" stroke-width="2"/>
<line x1="85.3" y1="500.5" x2="85.3" y2="533" stroke="#333" stroke-width="1.4"/>
<line x1="85.3" y1="533" x2="91" y2="533" stroke="#1a1a1a" stroke-width="1"/>
<path d="M90.5,391.6 A18,7 0 0 1 126.5,391.6" stroke="#1a1a1a" stroke-width="1.1" fill="none"/>
<path d="M94.0,391.6 A14.5,4.5 0 0 1 123.0,391.6" stroke="#1a1a1a" stroke-width="0.9" fill="none"/>
<path d="M90.5,527.5 A18,7 0 0 0 126.5,527.5" stroke="#1a1a1a" stroke-width="1.1" fill="none"/>
<path d="M94.0,527.5 A14.5,4.5 0 0 0 123.0,527.5" stroke="#1a1a1a" stroke-width="0.9" fill="none"/>
<ellipse cx="108.5" cy="402.6" rx="12.6" ry="5.9" fill="#fff" stroke="#1a1a1a" stroke-width="1.2"/>
<ellipse cx="108.5" cy="516.4" rx="12.6" ry="5.9" fill="#fff" stroke="#1a1a1a" stroke-width="1.2"/>
<path d="M99.5,400 Q108.5,396 117.5,400" stroke="#1a1a1a" stroke-width="1.5" fill="none"/>
<path d="M99.5,519 Q108.5,523 117.5,519" stroke="#1a1a1a" stroke-width="1.5" fill="none"/>
<path d="M156.8,391.6 A18,7 0 0 1 192.8,391.6" stroke="#1a1a1a" stroke-width="1.1" fill="none"/>
<path d="M160.3,391.6 A14.5,4.5 0 0 1 189.3,391.6" stroke="#1a1a1a" stroke-width="0.9" fill="none"/>
<path d="M156.8,527.5 A18,7 0 0 0 192.8,527.5" stroke="#1a1a1a" stroke-width="1.1" fill="none"/>
<path d="M160.3,527.5 A14.5,4.5 0 0 0 189.3,527.5" stroke="#1a1a1a" stroke-width="0.9" fill="none"/>
<ellipse cx="174.8" cy="402.6" rx="12.6" ry="5.9" fill="#fff" stroke="#1a1a1a" stroke-width="1.2"/>
<ellipse cx="174.8" cy="516.4" rx="12.6" ry="5.9" fill="#fff" stroke="#1a1a1a" stroke-width="1.2"/>
<path d="M165.8,400 Q174.8,396 183.8,400" stroke="#1a1a1a" stroke-width="1.5" fill="none"/>
<path d="M165.8,519 Q174.8,523 183.8,519" stroke="#1a1a1a" stroke-width="1.5" fill="none"/>
<line x1="190" y1="387" x2="197.5" y2="387" stroke="#1a1a1a" stroke-width="1"/>
<rect x="82.1" y="419" width="6.5" height="30" fill="#1a1a1a" stroke="#1a1a1a" stroke-width="0"/>
<rect x="82.89999999999999" y="449" width="5" height="3" fill="#fff" stroke="#1a1a1a" stroke-width="0.8"/>
<rect x="82.1" y="470" width="6.5" height="30.5" fill="#1a1a1a" stroke="#1a1a1a" stroke-width="0"/>
<rect x="82.89999999999999" y="467.5" width="5" height="3" fill="#fff" stroke="#1a1a1a" stroke-width="0.8"/>
<circle cx="81.8" cy="422" r="0.7" fill="#fff" stroke="none" stroke-width="1"/>
<circle cx="88.89999999999999" cy="422" r="0.7" fill="#fff" stroke="none" stroke-width="1"/>
<circle cx="81.8" cy="428" r="0.7" fill="#fff" stroke="none" stroke-width="1"/>
<circle cx="88.89999999999999" cy="428" r="0.7" fill="#fff" stroke="none" stroke-width="1"/>
<circle cx="81.8" cy="434" r="0.7" fill="#fff" stroke="none" stroke-width="1"/>
<circle cx="88.89999999999999" cy="434" r="0.7" fill="#fff" stroke="none" stroke-width="1"/>
<circle cx="81.8" cy="440" r="0.7" fill="#fff" stroke="none" stroke-width="1"/>
<circle cx="88.89999999999999" cy="440" r="0.7" fill="#fff" stroke="none" stroke-width="1"/>
<circle cx="81.8" cy="446" r="0.7" fill="#fff" stroke="none" stroke-width="1"/>
<circle cx="88.89999999999999" cy="446" r="0.7" fill="#fff" stroke="none" stroke-width="1"/>
<circle cx="81.8" cy="470" r="0.7" fill="#fff" stroke="none" stroke-width="1"/>
<circle cx="88.89999999999999" cy="470" r="0.7" fill="#fff" stroke="none" stroke-width="1"/>
<circle cx="81.8" cy="476" r="0.7" fill="#fff" stroke="none" stroke-width="1"/>
<circle cx="88.89999999999999" cy="476" r="0.7" fill="#fff" stroke="none" stroke-width="1"/>
<circle cx="81.8" cy="482" r="0.7" fill="#fff" stroke="none" stroke-width="1"/>
<circle cx="88.89999999999999" cy="482" r="0.7" fill="#fff" stroke="none" stroke-width="1"/>
<circle cx="81.8" cy="488" r="0.7" fill="#fff" stroke="none" stroke-width="1"/>
<circle cx="88.89999999999999" cy="488" r="0.7" fill="#fff" stroke="none" stroke-width="1"/>
<circle cx="81.8" cy="494" r="0.7" fill="#fff" stroke="none" stroke-width="1"/>
<circle cx="88.89999999999999" cy="494" r="0.7" fill="#fff" stroke="none" stroke-width="1"/>
<rect x="93.35" y="419" width="6.5" height="30" fill="#1a1a1a" stroke="#1a1a1a" stroke-width="0"/>
<rect x="94.14999999999999" y="449" width="5" height="3" fill="#fff" stroke="#1a1a1a" stroke-width="0.8"/>
<rect x="93.35" y="470" width="6.5" height="30.5" fill="#1a1a1a" stroke="#1a1a1a" stroke-width="0"/>
<rect x="94.14999999999999" y="467.5" width="5" height="3" fill="#fff" stroke="#1a1a1a" stroke-width="0.8"/>
<circle cx="93.05" cy="422" r="0.7" fill="#fff" stroke="none" stroke-width="1"/>
<circle cx="100.14999999999999" cy="422" r="0.7" fill="#fff" stroke="none" stroke-width="1"/>
<circle cx="93.05" cy="428" r="0.7" fill="#fff" stroke="none" stroke-width="1"/>
<circle cx="100.14999999999999" cy="428" r="0.7" fill="#fff" stroke="none" stroke-width="1"/>
<circle cx="93.05" cy="434" r="0.7" fill="#fff" stroke="none" stroke-width="1"/>
<circle cx="100.14999999999999" cy="434" r="0.7" fill="#fff" stroke="none" stroke-width="1"/>
<circle cx="93.05" cy="440" r="0.7" fill="#fff" stroke="none" stroke-width="1"/>
<circle cx="100.14999999999999" cy="440" r="0.7" fill="#fff" stroke="none" stroke-width="1"/>
<circle cx="93.05" cy="446" r="0.7" fill="#fff" stroke="none" stroke-width="1"/>
<circle cx="100.14999999999999" cy="446" r="0.7" fill="#fff" stroke="none" stroke-width="1"/>
<circle cx="93.05" cy="470" r="0.7" fill="#fff" stroke="none" stroke-width="1"/>
<circle cx="100.14999999999999" cy="470" r="0.7" fill="#fff" stroke="none" stroke-width="1"/>
<circle cx="93.05" cy="476" r="0.7" fill="#fff" stroke="none" stroke-width="1"/>
<circle cx="100.14999999999999" cy="476" r="0.7" fill="#fff" stroke="none" stroke-width="1"/>
<circle cx="93.05" cy="482" r="0.7" fill="#fff" stroke="none" stroke-width="1"/>
<circle cx="100.14999999999999" cy="482" r="0.7" fill="#fff" stroke="none" stroke-width="1"/>
<circle cx="93.05" cy="488" r="0.7" fill="#fff" stroke="none" stroke-width="1"/>
<circle cx="100.14999999999999" cy="488" r="0.7" fill="#fff" stroke="none" stroke-width="1"/>
<circle cx="93.05" cy="494" r="0.7" fill="#fff" stroke="none" stroke-width="1"/>
<circle cx="100.14999999999999" cy="494" r="0.7" fill="#fff" stroke="none" stroke-width="1"/>
<rect x="104.6" y="419" width="6.5" height="30" fill="#1a1a1a" stroke="#1a1a1a" stroke-width="0"/>
<rect x="105.39999999999999" y="449" width="5" height="3" fill="#fff" stroke="#1a1a1a" stroke-width="0.8"/>
<rect x="104.6" y="470" width="6.5" height="30.5" fill="#1a1a1a" stroke="#1a1a1a" stroke-width="0"/>
<rect x="105.39999999999999" y="467.5" width="5" height="3" fill="#fff" stroke="#1a1a1a" stroke-width="0.8"/>
<circle cx="104.3" cy="422" r="0.7" fill="#fff" stroke="none" stroke-width="1"/>
<circle cx="111.39999999999999" cy="422" r="0.7" fill="#fff" stroke="none" stroke-width="1"/>
<circle cx="104.3" cy="428" r="0.7" fill="#fff" stroke="none" stroke-width="1"/>
<circle cx="111.39999999999999" cy="428" r="0.7" fill="#fff" stroke="none" stroke-width="1"/>
<circle cx="104.3" cy="434" r="0.7" fill="#fff" stroke="none" stroke-width="1"/>
<circle cx="111.39999999999999" cy="434" r="0.7" fill="#fff" stroke="none" stroke-width="1"/>
<circle cx="104.3" cy="440" r="0.7" fill="#fff" stroke="none" stroke-width="1"/>
<circle cx="111.39999999999999" cy="440" r="0.7" fill="#fff" stroke="none" stroke-width="1"/>
<circle cx="104.3" cy="446" r="0.7" fill="#fff" stroke="none" stroke-width="1"/>
<circle cx="111.39999999999999" cy="446" r="0.7" fill="#fff" stroke="none" stroke-width="1"/>
<circle cx="104.3" cy="470" r="0.7" fill="#fff" stroke="none" stroke-width="1"/>
<circle cx="111.39999999999999" cy="470" r="0.7" fill="#fff" stroke="none" stroke-width="1"/>
<circle cx="104.3" cy="476" r="0.7" fill="#fff" stroke="none" stroke-width="1"/>
<circle cx="111.39999999999999" cy="476" r="0.7" fill="#fff" stroke="none" stroke-width="1"/>
<circle cx="104.3" cy="482" r="0.7" fill="#fff" stroke="none" stroke-width="1"/>
<circle cx="111.39999999999999" cy="482" r="0.7" fill="#fff" stroke="none" stroke-width="1"/>
<circle cx="104.3" cy="488" r="0.7" fill="#fff" stroke="none" stroke-width="1"/>
<circle cx="111.39999999999999" cy="488" r="0.7" fill="#fff" stroke="none" stroke-width="1"/>
<circle cx="104.3" cy="494" r="0.7" fill="#fff" stroke="none" stroke-width="1"/>
<circle cx="111.39999999999999" cy="494" r="0.7" fill="#fff" stroke="none" stroke-width="1"/>
<rect x="115.85" y="419" width="6.5" height="30" fill="#1a1a1a" stroke="#1a1a1a" stroke-width="0"/>
<rect x="116.64999999999999" y="449" width="5" height="3" fill="#fff" stroke="#1a1a1a" stroke-width="0.8"/>
<rect x="115.85" y="470" width="6.5" height="30.5" fill="#1a1a1a" stroke="#1a1a1a" stroke-width="0"/>
<rect x="116.64999999999999" y="467.5" width="5" height="3" fill="#fff" stroke="#1a1a1a" stroke-width="0.8"/>
<circle cx="115.55" cy="422" r="0.7" fill="#fff" stroke="none" stroke-width="1"/>
<circle cx="122.64999999999999" cy="422" r="0.7" fill="#fff" stroke="none" stroke-width="1"/>
<circle cx="115.55" cy="428" r="0.7" fill="#fff" stroke="none" stroke-width="1"/>
<circle cx="122.64999999999999" cy="428" r="0.7" fill="#fff" stroke="none" stroke-width="1"/>
<circle cx="115.55" cy="434" r="0.7" fill="#fff" stroke="none" stroke-width="1"/>
<circle cx="122.64999999999999" cy="434" r="0.7" fill="#fff" stroke="none" stroke-width="1"/>
<circle cx="115.55" cy="440" r="0.7" fill="#fff" stroke="none" stroke-width="1"/>
<circle cx="122.64999999999999" cy="440" r="0.7" fill="#fff" stroke="none" stroke-width="1"/>
<circle cx="115.55" cy="446" r="0.7" fill="#fff" stroke="none" stroke-width="1"/>
<circle cx="122.64999999999999" cy="446" r="0.7" fill="#fff" stroke="none" stroke-width="1"/>
<circle cx="115.55" cy="470" r="0.7" fill="#fff" stroke="none" stroke-width="1"/>
<circle cx="122.64999999999999" cy="470" r="0.7" fill="#fff" stroke="none" stroke-width="1"/>
<circle cx="115.55" cy="476" r="0.7" fill="#fff" stroke="none" stroke-width="1"/>
<circle cx="122.64999999999999" cy="476" r="0.7" fill="#fff" stroke="none" stroke-width="1"/>
<circle cx="115.55" cy="482" r="0.7" fill="#fff" stroke="none" stroke-width="1"/>
<circle cx="122.64999999999999" cy="482" r="0.7" fill="#fff" stroke="none" stroke-width="1"/>
<circle cx="115.55" cy="488" r="0.7" fill="#fff" stroke="none" stroke-width="1"/>
<circle cx="122.64999999999999" cy="488" r="0.7" fill="#fff" stroke="none" stroke-width="1"/>
<circle cx="115.55" cy="494" r="0.7" fill="#fff" stroke="none" stroke-width="1"/>
<circle cx="122.64999999999999" cy="494" r="0.7" fill="#fff" stroke="none" stroke-width="1"/>
<rect x="127.1" y="419" width="6.5" height="30" fill="#1a1a1a" stroke="#1a1a1a" stroke-width="0"/>
<rect x="127.89999999999999" y="449" width="5" height="3" fill="#fff" stroke="#1a1a1a" stroke-width="0.8"/>
<rect x="127.1" y="470" width="6.5" height="30.5" fill="#1a1a1a" stroke="#1a1a1a" stroke-width="0"/>
<rect x="127.89999999999999" y="467.5" width="5" height="3" fill="#fff" stroke="#1a1a1a" stroke-width="0.8"/>
<circle cx="126.8" cy="422" r="0.7" fill="#fff" stroke="none" stroke-width="1"/>
<circle cx="133.9" cy="422" r="0.7" fill="#fff" stroke="none" stroke-width="1"/>
<circle cx="126.8" cy="428" r="0.7" fill="#fff" stroke="none" stroke-width="1"/>
<circle cx="133.9" cy="428" r="0.7" fill="#fff" stroke="none" stroke-width="1"/>
<circle cx="126.8" cy="434" r="0.7" fill="#fff" stroke="none" stroke-width="1"/>
<circle cx="133.9" cy="434" r="0.7" fill="#fff" stroke="none" stroke-width="1"/>
<circle cx="126.8" cy="440" r="0.7" fill="#fff" stroke="none" stroke-width="1"/>
<circle cx="133.9" cy="440" r="0.7" fill="#fff" stroke="none" stroke-width="1"/>
<circle cx="126.8" cy="446" r="0.7" fill="#fff" stroke="none" stroke-width="1"/>
<circle cx="133.9" cy="446" r="0.7" fill="#fff" stroke="none" stroke-width="1"/>
<circle cx="126.8" cy="470" r="0.7" fill="#fff" stroke="none" stroke-width="1"/>
<circle cx="133.9" cy="470" r="0.7" fill="#fff" stroke="none" stroke-width="1"/>
<circle cx="126.8" cy="476" r="0.7" fill="#fff" stroke="none" stroke-width="1"/>
<circle cx="133.9" cy="476" r="0.7" fill="#fff" stroke="none" stroke-width="1"/>
<circle cx="126.8" cy="482" r="0.7" fill="#fff" stroke="none" stroke-width="1"/>
<circle cx="133.9" cy="482" r="0.7" fill="#fff" stroke="none" stroke-width="1"/>
<circle cx="126.8" cy="488" r="0.7" fill="#fff" stroke="none" stroke-width="1"/>
<circle cx="133.9" cy="488" r="0.7" fill="#fff" stroke="none" stroke-width="1"/>
<circle cx="126.8" cy="494" r="0.7" fill="#fff" stroke="none" stroke-width="1"/>
<circle cx="133.9" cy="494" r="0.7" fill="#fff" stroke="none" stroke-width="1"/>
<rect x="151.8" y="419" width="6.5" height="30" fill="#1a1a1a" stroke="#1a1a1a" stroke-width="0"/>
<rect x="152.60000000000002" y="449" width="5" height="3" fill="#fff" stroke="#1a1a1a" stroke-width="0.8"/>
<rect x="151.8" y="470" width="6.5" height="30.5" fill="#1a1a1a" stroke="#1a1a1a" stroke-width="0"/>
<rect x="152.60000000000002" y="467.5" width="5" height="3" fill="#fff" stroke="#1a1a1a" stroke-width="0.8"/>
<circle cx="151.5" cy="422" r="0.7" fill="#fff" stroke="none" stroke-width="1"/>
<circle cx="158.60000000000002" cy="422" r="0.7" fill="#fff" stroke="none" stroke-width="1"/>
<circle cx="151.5" cy="428" r="0.7" fill="#fff" stroke="none" stroke-width="1"/>
<circle cx="158.60000000000002" cy="428" r="0.7" fill="#fff" stroke="none" stroke-width="1"/>
<circle cx="151.5" cy="434" r="0.7" fill="#fff" stroke="none" stroke-width="1"/>
<circle cx="158.60000000000002" cy="434" r="0.7" fill="#fff" stroke="none" stroke-width="1"/>
<circle cx="151.5" cy="440" r="0.7" fill="#fff" stroke="none" stroke-width="1"/>
<circle cx="158.60000000000002" cy="440" r="0.7" fill="#fff" stroke="none" stroke-width="1"/>
<circle cx="151.5" cy="446" r="0.7" fill="#fff" stroke="none" stroke-width="1"/>
<circle cx="158.60000000000002" cy="446" r="0.7" fill="#fff" stroke="none" stroke-width="1"/>
<circle cx="151.5" cy="470" r="0.7" fill="#fff" stroke="none" stroke-width="1"/>
<circle cx="158.60000000000002" cy="470" r="0.7" fill="#fff" stroke="none" stroke-width="1"/>
<circle cx="151.5" cy="476" r="0.7" fill="#fff" stroke="none" stroke-width="1"/>
<circle cx="158.60000000000002" cy="476" r="0.7" fill="#fff" stroke="none" stroke-width="1"/>
<circle cx="151.5" cy="482" r="0.7" fill="#fff" stroke="none" stroke-width="1"/>
<circle cx="158.60000000000002" cy="482" r="0.7" fill="#fff" stroke="none" stroke-width="1"/>
<circle cx="151.5" cy="488" r="0.7" fill="#fff" stroke="none" stroke-width="1"/>
<circle cx="158.60000000000002" cy="488" r="0.7" fill="#fff" stroke="none" stroke-width="1"/>
<circle cx="151.5" cy="494" r="0.7" fill="#fff" stroke="none" stroke-width="1"/>
<circle cx="158.60000000000002" cy="494" r="0.7" fill="#fff" stroke="none" stroke-width="1"/>
<rect x="163.05" y="419" width="6.5" height="30" fill="#1a1a1a" stroke="#1a1a1a" stroke-width="0"/>
<rect x="163.85000000000002" y="449" width="5" height="3" fill="#fff" stroke="#1a1a1a" stroke-width="0.8"/>
<rect x="163.05" y="470" width="6.5" height="30.5" fill="#1a1a1a" stroke="#1a1a1a" stroke-width="0"/>
<rect x="163.85000000000002" y="467.5" width="5" height="3" fill="#fff" stroke="#1a1a1a" stroke-width="0.8"/>
<circle cx="162.75" cy="422" r="0.7" fill="#fff" stroke="none" stroke-width="1"/>
<circle cx="169.85000000000002" cy="422" r="0.7" fill="#fff" stroke="none" stroke-width="1"/>
<circle cx="162.75" cy="428" r="0.7" fill="#fff" stroke="none" stroke-width="1"/>
<circle cx="169.85000000000002" cy="428" r="0.7" fill="#fff" stroke="none" stroke-width="1"/>
<circle cx="162.75" cy="434" r="0.7" fill="#fff" stroke="none" stroke-width="1"/>
<circle cx="169.85000000000002" cy="434" r="0.7" fill="#fff" stroke="none" stroke-width="1"/>
<circle cx="162.75" cy="440" r="0.7" fill="#fff" stroke="none" stroke-width="1"/>
<circle cx="169.85000000000002" cy="440" r="0.7" fill="#fff" stroke="none" stroke-width="1"/>
<circle cx="162.75" cy="446" r="0.7" fill="#fff" stroke="none" stroke-width="1"/>
<circle cx="169.85000000000002" cy="446" r="0.7" fill="#fff" stroke="none" stroke-width="1"/>
<circle cx="162.75" cy="470" r="0.7" fill="#fff" stroke="none" stroke-width="1"/>
<circle cx="169.85000000000002" cy="470" r="0.7" fill="#fff" stroke="none" stroke-width="1"/>
<circle cx="162.75" cy="476" r="0.7" fill="#fff" stroke="none" stroke-width="1"/>
<circle cx="169.85000000000002" cy="476" r="0.7" fill="#fff" stroke="none" stroke-width="1"/>
<circle cx="162.75" cy="482" r="0.7" fill="#fff" stroke="none" stroke-width="1"/>
<circle cx="169.85000000000002" cy="482" r="0.7" fill="#fff" stroke="none" stroke-width="1"/>
<circle cx="162.75" cy="488" r="0.7" fill="#fff" stroke="none" stroke-width="1"/>
<circle cx="169.85000000000002" cy="488" r="0.7" fill="#fff" stroke="none" stroke-width="1"/>
<circle cx="162.75" cy="494" r="0.7" fill="#fff" stroke="none" stroke-width="1"/>
<circle cx="169.85000000000002" cy="494" r="0.7" fill="#fff" stroke="none" stroke-width="1"/>
<rect x="174.3" y="419" width="6.5" height="30" fill="#1a1a1a" stroke="#1a1a1a" stroke-width="0"/>
<rect x="175.10000000000002" y="449" width="5" height="3" fill="#fff" stroke="#1a1a1a" stroke-width="0.8"/>
<rect x="174.3" y="470" width="6.5" height="30.5" fill="#1a1a1a" stroke="#1a1a1a" stroke-width="0"/>
<rect x="175.10000000000002" y="467.5" width="5" height="3" fill="#fff" stroke="#1a1a1a" stroke-width="0.8"/>
<circle cx="174.0" cy="422" r="0.7" fill="#fff" stroke="none" stroke-width="1"/>
<circle cx="181.10000000000002" cy="422" r="0.7" fill="#fff" stroke="none" stroke-width="1"/>
<circle cx="174.0" cy="428" r="0.7" fill="#fff" stroke="none" stroke-width="1"/>
<circle cx="181.10000000000002" cy="428" r="0.7" fill="#fff" stroke="none" stroke-width="1"/>
<circle cx="174.0" cy="434" r="0.7" fill="#fff" stroke="none" stroke-width="1"/>
<circle cx="181.10000000000002" cy="434" r="0.7" fill="#fff" stroke="none" stroke-width="1"/>
<circle cx="174.0" cy="440" r="0.7" fill="#fff" stroke="none" stroke-width="1"/>
<circle cx="181.10000000000002" cy="440" r="0.7" fill="#fff" stroke="none" stroke-width="1"/>
<circle cx="174.0" cy="446" r="0.7" fill="#fff" stroke="none" stroke-width="1"/>
<circle cx="181.10000000000002" cy="446" r="0.7" fill="#fff" stroke="none" stroke-width="1"/>
<circle cx="174.0" cy="470" r="0.7" fill="#fff" stroke="none" stroke-width="1"/>
<circle cx="181.10000000000002" cy="470" r="0.7" fill="#fff" stroke="none" stroke-width="1"/>
<circle cx="174.0" cy="476" r="0.7" fill="#fff" stroke="none" stroke-width="1"/>
<circle cx="181.10000000000002" cy="476" r="0.7" fill="#fff" stroke="none" stroke-width="1"/>
<circle cx="174.0" cy="482" r="0.7" fill="#fff" stroke="none" stroke-width="1"/>
<circle cx="181.10000000000002" cy="482" r="0.7" fill="#fff" stroke="none" stroke-width="1"/>
<circle cx="174.0" cy="488" r="0.7" fill="#fff" stroke="none" stroke-width="1"/>
<circle cx="181.10000000000002" cy="488" r="0.7" fill="#fff" stroke="none" stroke-width="1"/>
<circle cx="174.0" cy="494" r="0.7" fill="#fff" stroke="none" stroke-width="1"/>
<circle cx="181.10000000000002" cy="494" r="0.7" fill="#fff" stroke="none" stroke-width="1"/>
<rect x="185.55" y="419" width="6.5" height="30" fill="#1a1a1a" stroke="#1a1a1a" stroke-width="0"/>
<rect x="186.35000000000002" y="449" width="5" height="3" fill="#fff" stroke="#1a1a1a" stroke-width="0.8"/>
<rect x="185.55" y="470" width="6.5" height="30.5" fill="#1a1a1a" stroke="#1a1a1a" stroke-width="0"/>
<rect x="186.35000000000002" y="467.5" width="5" height="3" fill="#fff" stroke="#1a1a1a" stroke-width="0.8"/>
<circle cx="185.25" cy="422" r="0.7" fill="#fff" stroke="none" stroke-width="1"/>
<circle cx="192.35000000000002" cy="422" r="0.7" fill="#fff" stroke="none" stroke-width="1"/>
<circle cx="185.25" cy="428" r="0.7" fill="#fff" stroke="none" stroke-width="1"/>
<circle cx="192.35000000000002" cy="428" r="0.7" fill="#fff" stroke="none" stroke-width="1"/>
<circle cx="185.25" cy="434" r="0.7" fill="#fff" stroke="none" stroke-width="1"/>
<circle cx="192.35000000000002" cy="434" r="0.7" fill="#fff" stroke="none" stroke-width="1"/>
<circle cx="185.25" cy="440" r="0.7" fill="#fff" stroke="none" stroke-width="1"/>
<circle cx="192.35000000000002" cy="440" r="0.7" fill="#fff" stroke="none" stroke-width="1"/>
<circle cx="185.25" cy="446" r="0.7" fill="#fff" stroke="none" stroke-width="1"/>
<circle cx="192.35000000000002" cy="446" r="0.7" fill="#fff" stroke="none" stroke-width="1"/>
<circle cx="185.25" cy="470" r="0.7" fill="#fff" stroke="none" stroke-width="1"/>
<circle cx="192.35000000000002" cy="470" r="0.7" fill="#fff" stroke="none" stroke-width="1"/>
<circle cx="185.25" cy="476" r="0.7" fill="#fff" stroke="none" stroke-width="1"/>
<circle cx="192.35000000000002" cy="476" r="0.7" fill="#fff" stroke="none" stroke-width="1"/>
<circle cx="185.25" cy="482" r="0.7" fill="#fff" stroke="none" stroke-width="1"/>
<circle cx="192.35000000000002" cy="482" r="0.7" fill="#fff" stroke="none" stroke-width="1"/>
<circle cx="185.25" cy="488" r="0.7" fill="#fff" stroke="none" stroke-width="1"/>
<circle cx="192.35000000000002" cy="488" r="0.7" fill="#fff" stroke="none" stroke-width="1"/>
<circle cx="185.25" cy="494" r="0.7" fill="#fff" stroke="none" stroke-width="1"/>
<circle cx="192.35000000000002" cy="494" r="0.7" fill="#fff" stroke="none" stroke-width="1"/>
<rect x="196.8" y="419" width="6.5" height="30" fill="#1a1a1a" stroke="#1a1a1a" stroke-width="0"/>
<rect x="197.60000000000002" y="449" width="5" height="3" fill="#fff" stroke="#1a1a1a" stroke-width="0.8"/>
<rect x="196.8" y="470" width="6.5" height="30.5" fill="#1a1a1a" stroke="#1a1a1a" stroke-width="0"/>
<rect x="197.60000000000002" y="467.5" width="5" height="3" fill="#fff" stroke="#1a1a1a" stroke-width="0.8"/>
<circle cx="196.5" cy="422" r="0.7" fill="#fff" stroke="none" stroke-width="1"/>
<circle cx="203.60000000000002" cy="422" r="0.7" fill="#fff" stroke="none" stroke-width="1"/>
<circle cx="196.5" cy="428" r="0.7" fill="#fff" stroke="none" stroke-width="1"/>
<circle cx="203.60000000000002" cy="428" r="0.7" fill="#fff" stroke="none" stroke-width="1"/>
<circle cx="196.5" cy="434" r="0.7" fill="#fff" stroke="none" stroke-width="1"/>
<circle cx="203.60000000000002" cy="434" r="0.7" fill="#fff" stroke="none" stroke-width="1"/>
<circle cx="196.5" cy="440" r="0.7" fill="#fff" stroke="none" stroke-width="1"/>
<circle cx="203.60000000000002" cy="440" r="0.7" fill="#fff" stroke="none" stroke-width="1"/>
<circle cx="196.5" cy="446" r="0.7" fill="#fff" stroke="none" stroke-width="1"/>
<circle cx="203.60000000000002" cy="446" r="0.7" fill="#fff" stroke="none" stroke-width="1"/>
<circle cx="196.5" cy="470" r="0.7" fill="#fff" stroke="none" stroke-width="1"/>
<circle cx="203.60000000000002" cy="470" r="0.7" fill="#fff" stroke="none" stroke-width="1"/>
<circle cx="196.5" cy="476" r="0.7" fill="#fff" stroke="none" stroke-width="1"/>
<circle cx="203.60000000000002" cy="476" r="0.7" fill="#fff" stroke="none" stroke-width="1"/>
<circle cx="196.5" cy="482" r="0.7" fill="#fff" stroke="none" stroke-width="1"/>
<circle cx="203.60000000000002" cy="482" r="0.7" fill="#fff" stroke="none" stroke-width="1"/>
<circle cx="196.5" cy="488" r="0.7" fill="#fff" stroke="none" stroke-width="1"/>
<circle cx="203.60000000000002" cy="488" r="0.7" fill="#fff" stroke="none" stroke-width="1"/>
<circle cx="196.5" cy="494" r="0.7" fill="#fff" stroke="none" stroke-width="1"/>
<circle cx="203.60000000000002" cy="494" r="0.7" fill="#fff" stroke="none" stroke-width="1"/>
<rect x="73.7" y="452.4" width="148" height="15" fill="#fff" stroke="#1a1a1a" stroke-width="1.1"/>
<rect x="135.5" y="413" width="5.5" height="48" fill="#fff" stroke="#1a1a1a" stroke-width="1"/>
<rect x="141" y="461" width="5.5" height="47" fill="#fff" stroke="#1a1a1a" stroke-width="1"/>
<line x1="141" y1="452.4" x2="141" y2="467.4" stroke="#1a1a1a" stroke-width="1"/>
<path d="M222,451.6 L263,451.6 M222,469.5 L263,469.5" stroke="#1a1a1a" stroke-width="1.1" fill="none"/>
<line x1="226" y1="458" x2="231" y2="458" stroke="#1a1a1a" stroke-width="1"/>
<line x1="226" y1="461" x2="231" y2="461" stroke="#1a1a1a" stroke-width="1"/>
<rect x="236.8" y="446" width="11.6" height="27.7" fill="#fff" stroke="#1a1a1a" stroke-width="1.2"/>
<rect x="239.5" y="448" width="6" height="24" fill="#fff" stroke="#1a1a1a" stroke-width="1"/>
<path d="M238.5,459 Q242,452 246,459 Q242,466 238.5,459Z" stroke="#1a1a1a" stroke-width="1" fill="#1a1a1a"/>
<line x1="241.5" y1="462" x2="241.5" y2="500" stroke="#1a1a1a" stroke-width="2.2"/>
<line x1="241.5" y1="462" x2="241.5" y2="500" stroke="#fff" stroke-width="0.8"/>
<rect x="226" y="471" width="4" height="6" fill="#1a1a1a" stroke="#1a1a1a" stroke-width="0"/>
<rect x="224.5" y="476" width="7" height="4" fill="#1a1a1a" stroke="#1a1a1a" stroke-width="0"/>
<rect x="226" y="480" width="4" height="6" fill="#1a1a1a" stroke="#1a1a1a" stroke-width="0"/>
<rect x="254" y="471" width="4" height="6" fill="#1a1a1a" stroke="#1a1a1a" stroke-width="0"/>
<rect x="252.5" y="476" width="7" height="4" fill="#1a1a1a" stroke="#1a1a1a" stroke-width="0"/>
<rect x="254" y="480" width="4" height="6" fill="#1a1a1a" stroke="#1a1a1a" stroke-width="0"/>
<line x1="255.7" y1="486" x2="255.7" y2="558.4" stroke="#1a1a1a" stroke-width="0.8"/>
<path d="M183,558.4 L255.7,558.4" stroke="#1a1a1a" stroke-width="0.8" fill="none"/>
<path d="M288.8,379.5 L288.8,439 M315.4,379.5 L315.4,439 M288.8,481 L288.8,540 M315.4,481 L315.4,540" stroke="#1a1a1a" stroke-width="1.5" fill="none"/>
<path d="M288.8,379.5 Q290,371 297.5,371 L307,371 Q314,371 315.4,379.5 Z" stroke="#1a1a1a" stroke-width="1" fill="#1a1a1a"/>
<rect x="297.6" y="366.6" width="9.4" height="4.6" fill="#fff" stroke="#1a1a1a" stroke-width="1.1"/>
<circle cx="294" cy="375.5" r="0.7" fill="#fff" stroke="none" stroke-width="1"/>
<circle cx="298" cy="375.5" r="0.7" fill="#fff" stroke="none" stroke-width="1"/>
<circle cx="302" cy="375.5" r="0.7" fill="#fff" stroke="none" stroke-width="1"/>
<circle cx="306" cy="375.5" r="0.7" fill="#fff" stroke="none" stroke-width="1"/>
<circle cx="310" cy="375.5" r="0.7" fill="#fff" stroke="none" stroke-width="1"/>
<line x1="289" y1="379.5" x2="315" y2="379.5" stroke="#fff" stroke-width="0.8"/>
<path d="M288.8,540 Q290,547 297.5,547 L307,547 Q314,547 315.4,540 Z" stroke="#1a1a1a" stroke-width="1" fill="#1a1a1a"/>
<rect x="297.6" y="546.6" width="9.4" height="6.4" fill="#fff" stroke="#1a1a1a" stroke-width="1.1"/>
<line x1="289" y1="540.5" x2="315" y2="540.5" stroke="#fff" stroke-width="0.8"/>
<rect x="277.9" y="440" width="48.4" height="6.9" fill="#1a1a1a" stroke="#1a1a1a" stroke-width="0" rx="1.5"/>
<rect x="277.9" y="472.9" width="48.4" height="7.3" fill="#1a1a1a" stroke="#1a1a1a" stroke-width="0" rx="1.5"/>
<rect x="287.3" y="441.7" width="30.1" height="3.9" fill="#fff" stroke="#1a1a1a" stroke-width="0.6"/>
<rect x="287.3" y="474.6" width="30.1" height="3.9" fill="#fff" stroke="#1a1a1a" stroke-width="0.6"/>
<rect x="281" y="446.9" width="42" height="26" fill="#fff" stroke="#1a1a1a" stroke-width="0"/>
<path d="M280,447 L292,447 L296,452 L284,452 Z M280,473 L292,473 L296,468 L284,468 Z" stroke="#1a1a1a" stroke-width="1" fill="#1a1a1a"/>
<path d="M324,447 L312,447 L308,452 L320,452 Z M324,473 L312,473 L308,468 L320,468 Z" stroke="#1a1a1a" stroke-width="1" fill="#1a1a1a"/>
<line x1="281" y1="447" x2="281" y2="473" stroke="#1a1a1a" stroke-width="1.2"/>
<line x1="323.5" y1="447" x2="323.5" y2="473" stroke="#1a1a1a" stroke-width="1.2"/>
<line x1="296.2" y1="447" x2="296.2" y2="473" stroke="#1a1a1a" stroke-width="1.8"/>
<line x1="308.5" y1="447" x2="308.5" y2="473" stroke="#1a1a1a" stroke-width="1.8"/>
<line x1="291" y1="447" x2="291" y2="473" stroke="#1a1a1a" stroke-width="0.8"/>
<line x1="313.5" y1="447" x2="313.5" y2="473" stroke="#1a1a1a" stroke-width="0.8"/>
<line x1="291" y1="460" x2="314" y2="460" stroke="#1a1a1a" stroke-width="1.2" stroke-dasharray="2,1.3"/>
<ellipse cx="302.3" cy="460" rx="3" ry="1.3" fill="#fff" stroke="#1a1a1a" stroke-width="0.8"/>
<path d="M289,457 L291.5,460 L289,463 L286.5,460Z M315.8,457 L318.3,460 L315.8,463 L313.3,460Z" stroke="#1a1a1a" stroke-width="1" fill="#1a1a1a"/>
<path d="M284,452 L291,458 M284,468 L291,462 M320,452 L313,458 M320,468 L313,462" stroke="#1a1a1a" stroke-width="0.8" fill="none"/>
<rect x="269.5" y="444.5" width="9" height="31" fill="#fff" stroke="#1a1a1a" stroke-width="0"/>
<rect x="269.5" y="445" width="2.6" height="30" fill="#1a1a1a" stroke="#1a1a1a" stroke-width="0"/>
<rect x="273.5" y="445" width="1.8" height="30" fill="#1a1a1a" stroke="#1a1a1a" stroke-width="0"/>
<rect x="276.8" y="446" width="1.8" height="28" fill="#1a1a1a" stroke="#1a1a1a" stroke-width="0"/>
<circle cx="273.5" cy="444.5" r="2.3" fill="#1a1a1a" stroke="none" stroke-width="1"/>
<circle cx="273.5" cy="475.5" r="2.3" fill="#1a1a1a" stroke="none" stroke-width="1"/>
<rect x="326.3" y="444.5" width="9" height="31" fill="#fff" stroke="#1a1a1a" stroke-width="0"/>
<rect x="326.3" y="445" width="2.6" height="30" fill="#1a1a1a" stroke="#1a1a1a" stroke-width="0"/>
<rect x="330.3" y="445" width="1.8" height="30" fill="#1a1a1a" stroke="#1a1a1a" stroke-width="0"/>
<rect x="333.6" y="446" width="1.8" height="28" fill="#1a1a1a" stroke="#1a1a1a" stroke-width="0"/>
<circle cx="330.3" cy="444.5" r="2.3" fill="#1a1a1a" stroke="none" stroke-width="1"/>
<circle cx="330.3" cy="475.5" r="2.3" fill="#1a1a1a" stroke="none" stroke-width="1"/>
<rect x="262.8" y="450.5" width="3.2" height="19" fill="#1a1a1a" stroke="#1a1a1a" stroke-width="0"/>
<rect x="339" y="450.5" width="3.2" height="19" fill="#1a1a1a" stroke="#1a1a1a" stroke-width="0"/>
<line x1="266" y1="451.6" x2="269.5" y2="451.6" stroke="#1a1a1a" stroke-width="1"/>
<line x1="266" y1="469.5" x2="269.5" y2="469.5" stroke="#1a1a1a" stroke-width="1"/>
<path d="M342.2,451.6 L348,451.6 M342.2,469.5 L348,469.5" stroke="#1a1a1a" stroke-width="1" fill="none"/>
<ellipse cx="349" cy="460" rx="8" ry="9.5" fill="none" stroke="#1a1a1a" stroke-width="0.9"/>
<rect x="356.8" y="446" width="3.4" height="28.5" fill="#fff" stroke="#1a1a1a" stroke-width="1.3"/>
<path d="M6.5,378.4 L85.3,378.4" stroke="#1a1a1a" stroke-width="0.8" fill="none"/>
<path d="M158,370.4 L245,370.4 L261,441" stroke="#1a1a1a" stroke-width="0.8" fill="none"/>
<path d="M262.5,448.6 L259.4,442.1 L262.5,441.4Z" fill="#1a1a1a"/>
<path d="M395.5,405.2 L338.2,405.2 L321,417.5" stroke="#1a1a1a" stroke-width="0.8" fill="none"/>
<path d="M315.6,421.6 L320.0,416.6 L321.8,419.2Z" fill="#1a1a1a"/>
<path d="M440,507.3 L353,507.3 L340.8,476" stroke="#1a1a1a" stroke-width="0.8" fill="none"/>
<path d="M339.5,472.5 L343.1,477.5 L340.4,478.6Z" fill="#1a1a1a"/>
</g>
<path d="M481,165 L481,300 L498,300 L498,172 Z" fill="url(#gv)" stroke="#4a0000" stroke-width="0.6"/>
<path d="M481,168 Q481,144.5 504,144.5 L511,145.5 L511,167 Q501,166.5 498,175 L498,178 L481,178 Z" fill="url(#gel)" stroke="#4a0000" stroke-width="0.6"/>
<path d="M481,177 Q489.5,180 498,177" fill="none" stroke="#700000" stroke-width="0.8"/>
<path d="M503,145 Q505,156 503,167" fill="none" stroke="#700000" stroke-width="0.7"/>
<ellipse cx="548.5" cy="188.0" rx="11.7" ry="4.2" transform="rotate(6 548.5 188.0)" fill="#7a0000" stroke="#0a0a0a" stroke-width="2.6"/>
<path d="M541.5,172 L541.5,188 Q548.5,191 555.5,188 L555.5,172Z" fill="url(#rln)" stroke="#4a0000" stroke-width="0.5"/>
<path d="M537.0,188.5 Q548.5,194.5 560.0,190" fill="none" stroke="#0a0a0a" stroke-width="2.6"/>
<path d="M537.5,193 L558.5,195 L564.0,200 L564.0,215 L554.5,223 L542.5,222 L536.5,213 L536.5,198Z" fill="url(#rlb)" stroke="#1a0000" stroke-width="0.9"/>
<path d="M558.5,195 L559.0,219" fill="none" stroke="#1a0000" stroke-width="1.4"/>
<ellipse cx="551.5" cy="211.0" rx="5.5" ry="7.0" transform="rotate(-10 551.5 211.0)" fill="#b00808" stroke="#2a0000" stroke-width="1"/>
<ellipse cx="552.0" cy="211.0" rx="2.5" ry="3.2" transform="rotate(-10 552.0 211.0)" fill="#d81812" stroke="none" stroke-width="1"/>
<path d="M563.5,202 L563.5,214" fill="none" stroke="#0a0a0a" stroke-width="2"/>
<ellipse cx="553.5" cy="225.0" rx="6.5" ry="3.2" transform="rotate(10 553.5 225.0)" fill="#0e0404" stroke="none" stroke-width="1"/>
<ellipse cx="613.5" cy="213.0" rx="11.7" ry="4.2" transform="rotate(6 613.5 213.0)" fill="#7a0000" stroke="#0a0a0a" stroke-width="2.6"/>
<path d="M606.5,197 L606.5,213 Q613.5,216 620.5,213 L620.5,197Z" fill="url(#rrn)" stroke="#4a0000" stroke-width="0.5"/>
<path d="M602.0,213.5 Q613.5,219.5 625.0,215" fill="none" stroke="#0a0a0a" stroke-width="2.6"/>
<path d="M602.5,218 L623.5,220 L629.0,225 L629.0,239 L619.5,247 L607.5,246 L601.5,237 L601.5,223Z" fill="url(#rrb)" stroke="#1a0000" stroke-width="0.9"/>
<path d="M623.5,220 L624.0,243" fill="none" stroke="#1a0000" stroke-width="1.4"/>
<ellipse cx="616.5" cy="235.0" rx="5.5" ry="7.0" transform="rotate(-10 616.5 235.0)" fill="#b00808" stroke="#2a0000" stroke-width="1"/>
<ellipse cx="617.0" cy="235.0" rx="2.5" ry="3.2" transform="rotate(-10 617.0 235.0)" fill="#d81812" stroke="none" stroke-width="1"/>
<path d="M628.5,227 L628.5,238" fill="none" stroke="#0a0a0a" stroke-width="2"/>
<ellipse cx="618.5" cy="249.0" rx="6.5" ry="3.2" transform="rotate(10 618.5 249.0)" fill="#0e0404" stroke="none" stroke-width="1"/>
<path d="M523,207 L539,199 L546,219 L529,225 Z" fill="url(#gstub)" stroke="#400" stroke-width="0.6"/>
<ellipse cx="539.0" cy="209.0" rx="4.5" ry="9.5" transform="rotate(-22 539.0 209.0)" fill="#c80a0a" stroke="#400" stroke-width="0.9"/>
<ellipse cx="534.0" cy="211.0" rx="4.0" ry="9.0" transform="rotate(-22 534.0 211.0)" fill="none" stroke="#500" stroke-width="0.8"/>
<path d="M588,230 L603,222 L610,242 L594,248 Z" fill="url(#gstub2)" stroke="#400" stroke-width="0.6"/>
<ellipse cx="603.0" cy="232.0" rx="4.5" ry="9.5" transform="rotate(-22 603.0 232.0)" fill="#c80a0a" stroke="#400" stroke-width="0.9"/>
<ellipse cx="598.0" cy="234.0" rx="4.0" ry="9.0" transform="rotate(-22 598.0 234.0)" fill="none" stroke="#500" stroke-width="0.8"/>
<path d="M521.1,148.8 L632.8,187.5 L627.2,204.1 L514.9,167.2Z" fill="url(#gman)" stroke="#4a0000" stroke-width="0.6"/>
<path d="M510.5,144.5 L519.5,147.2 L516.5,171 L508.5,168.2 Z" fill="#3a0606" stroke="#200" stroke-width="0.5"/>
<path d="M514.5,145.8 L512.2,169.6" fill="none" stroke="#b00000" stroke-width="1.3"/>
<path d="M517.6,147 L514.8,170.5" fill="none" stroke="#7a0000" stroke-width="0.8"/>
<ellipse cx="631.5" cy="196.0" rx="6.4" ry="9.4" transform="rotate(-18 631.5 196.0)" fill="url(#gcap)" stroke="#4a0000" stroke-width="0.7"/>
<circle cx="530.4" cy="146.8" r="3.3" fill="#1a1a1a" stroke="#000" stroke-width="0.5"/>
<circle cx="529.6" cy="146" r="1" fill="#666"/>
<path d="M529.3,149.5 L531.5,149.5 L531.5,152.5 L529.3,152.5Z" fill="#333" stroke="none" stroke-width="1"/>
<path d="M607.4,165 Q607.4,161.4 611.7,161.4 Q616,161.4 616,165 L616,177 L613.5,180.5 L609.8,180.5 L607.4,177 Z" fill="#1c1c1c" stroke="#000" stroke-width="0.5"/>
<path d="M608.5,171.5 L615,172.5" fill="none" stroke="#4a4a4a" stroke-width="0.9"/>
<path d="M568.5,173.5 L583,176.5 L583.5,201 L577,203 L568.5,200 Z" fill="#1e1e1e" stroke="#000" stroke-width="0.5"/>
<path d="M571.5,179 L580,181 L580,190 L571.5,188Z" fill="#444" stroke="none" stroke-width="1"/>
<path d="M573,200 L573,209 L580,209 L580,202Z" fill="#1a1a1a" stroke="none" stroke-width="1"/>
<path d="M575.5,209 L575.5,213 L578,213 L578,209Z" fill="#333" stroke="none" stroke-width="1"/>
<path d="M554.5,171 L561,172.5 L561,196 L554.5,194.5Z" fill="#181818" stroke="none" stroke-width="1"/>
<path d="M549,192 L566,195 L566,199 L549,196Z" fill="#222" stroke="none" stroke-width="1"/>
<path d="M562,196 L568,197 L567,206 L561,205Z" fill="#181818" stroke="none" stroke-width="1"/>
<path d="M529.1,220.7 L655.7,257.2 L623.5,403.8 L490.2,357.0 A34.5,70.9 15.4 0 1 529.1,220.7 Z" fill="url(#gbody)" stroke="#4a0000" stroke-width="0.8"/>
<path d="M440,278 L680,310 L680,352 L440,320 Z" fill="url(#gstreak)" clip-path="url(#cbody)"/>
<path d="M529.1,220.7 L655.7,257.2 L623.5,403.8 L490.2,357.0 A34.5,70.9 15.4 0 1 529.1,220.7 Z" fill="none" stroke="#4a0000" stroke-width="0.8"/>
<path d="M528.4,221.2 L524.6,222.1 L520.6,223.6 L516.7,226.0 L512.7,228.9 L508.8,232.6 L505.0,236.9 L501.3,241.7 L497.7,247.1 L494.4,252.9 L491.3,259.1 L488.4,265.7 L485.9,272.5 L483.7,279.5 L481.9,286.6 L480.4,293.8 L479.3,300.9 L478.7,307.9 L478.4,314.7 L478.5,321.2 L479.1,327.4 L480.0,333.2 L481.4,338.6 L483.1,343.4 L485.2,347.6 L487.6,351.2 L490.4,354.2 L493.4,356.5" fill="none" stroke="#6a0000" stroke-width="0.8"/>
<ellipse cx="640.5" cy="330.8" rx="49.5" ry="75.3" transform="rotate(8.3 640.5 330.8)" fill="url(#gcapR)" stroke="#4a0000" stroke-width="0.8"/>
<ellipse cx="646.0" cy="331.6" rx="44.5" ry="72.3" transform="rotate(8.3 646.0 331.6)" fill="none" stroke="#700000" stroke-width="0.9"/>
<path d="M496.5,235 L502.5,237 L502,240.5 L496.5,239Z" fill="#5a0000" stroke="none" stroke-width="1"/>
<path d="M522.4,214.5 L618.4,247.0 L615.6,255.0 L519.6,222.5Z" fill="url(#gcol)" stroke="#4a0000" stroke-width="0.6"/>
<ellipse cx="618.0" cy="251.5" rx="3.6" ry="5.0" transform="rotate(-20 618.0 251.5)" fill="#d01010" stroke="#4a0000" stroke-width="0.6"/>
<ellipse cx="521.0" cy="218.5" rx="3.4" ry="4.6" transform="rotate(-20 521.0 218.5)" fill="#e82018" stroke="#4a0000" stroke-width="0.6"/>
<ellipse cx="507.6" cy="292.3" rx="19.0" ry="20.5" transform="rotate(-10 507.6 292.3)" fill="url(#gmh1)" stroke="#600" stroke-width="1.5"/>
<ellipse cx="504.7" cy="291.6" rx="12.2" ry="13.1" transform="rotate(-10 504.7 291.6)" fill="#d83232" stroke="#500" stroke-width="1.8"/>
<ellipse cx="504.2" cy="291.6" rx="8.7" ry="9.4" transform="rotate(-10 504.2 291.6)" fill="#e44848" stroke="#600" stroke-width="0.9"/>
<ellipse cx="503.7" cy="291.6" rx="4.2" ry="4.5" transform="rotate(-10 503.7 291.6)" fill="#f07a72" stroke="#600" stroke-width="0.8"/>
<circle cx="522.6" cy="298.2" r="0.9" fill="#500"/>
<circle cx="514.3" cy="307.9" r="0.9" fill="#500"/>
<circle cx="502.1" cy="308.5" r="0.9" fill="#500"/>
<circle cx="493.1" cy="299.6" r="0.9" fill="#500"/>
<circle cx="492.6" cy="286.4" r="0.9" fill="#500"/>
<circle cx="500.9" cy="276.7" r="0.9" fill="#500"/>
<circle cx="513.1" cy="276.1" r="0.9" fill="#500"/>
<circle cx="522.1" cy="285.0" r="0.9" fill="#500"/>
<ellipse cx="570.0" cy="313.3" rx="19.0" ry="21.0" transform="rotate(-10 570.0 313.3)" fill="url(#gmh2)" stroke="#600" stroke-width="1.5"/>
<ellipse cx="567.5" cy="313.7" rx="12.2" ry="13.4" transform="rotate(-10 567.5 313.7)" fill="#d83232" stroke="#500" stroke-width="1.8"/>
<ellipse cx="567.0" cy="313.7" rx="8.7" ry="9.7" transform="rotate(-10 567.0 313.7)" fill="#e44848" stroke="#600" stroke-width="0.9"/>
<ellipse cx="566.5" cy="313.7" rx="4.2" ry="4.6" transform="rotate(-10 566.5 313.7)" fill="#f07a72" stroke="#600" stroke-width="0.8"/>
<circle cx="585.0" cy="319.3" r="0.9" fill="#500"/>
<circle cx="576.7" cy="329.3" r="0.9" fill="#500"/>
<circle cx="564.5" cy="329.9" r="0.9" fill="#500"/>
<circle cx="555.5" cy="320.8" r="0.9" fill="#500"/>
<circle cx="555.0" cy="307.3" r="0.9" fill="#500"/>
<circle cx="563.3" cy="297.3" r="0.9" fill="#500"/>
<circle cx="575.5" cy="296.7" r="0.9" fill="#500"/>
<circle cx="584.5" cy="305.8" r="0.9" fill="#500"/>
<path d="M495.9,373 L522,373 L517,415 L498.4,415 Z" fill="url(#gleg)" stroke="#500" stroke-width="0.7"/>
<path d="M507,375 L506,414" fill="none" stroke="#6a0000" stroke-width="0.7"/>
<path d="M588.6,398 L616.8,399 L608.7,447 L589,447 Z" fill="url(#gleg2)" stroke="#500" stroke-width="0.7"/>
<path d="M600,401 L599,446" fill="none" stroke="#6a0000" stroke-width="0.7"/>
<ellipse cx="507.0" cy="366.7" rx="17.4" ry="14.3" transform="rotate(25 507.0 366.7)" fill="url(#glm1)" stroke="#500" stroke-width="1"/>
<ellipse cx="508.0" cy="368.2" rx="13.0" ry="10.0" transform="rotate(25 508.0 368.2)" fill="none" stroke="#4a0000" stroke-width="1.2"/>
<ellipse cx="508.5" cy="369.2" rx="8.0" ry="6.0" transform="rotate(25 508.5 369.2)" fill="none" stroke="#500" stroke-width="0.8"/>
<ellipse cx="570.2" cy="389.0" rx="17.4" ry="14.3" transform="rotate(25 570.2 389.0)" fill="url(#glm2)" stroke="#500" stroke-width="1"/>
<ellipse cx="571.2" cy="390.5" rx="13.0" ry="10.0" transform="rotate(25 571.2 390.5)" fill="none" stroke="#4a0000" stroke-width="1.2"/>
<ellipse cx="571.7" cy="391.5" rx="8.0" ry="6.0" transform="rotate(25 571.7 391.5)" fill="none" stroke="#500" stroke-width="0.8"/>
<ellipse cx="466.0" cy="310.0" rx="7.5" ry="15.5" transform="rotate(-5 466.0 310.0)" fill="url(#gin)" stroke="#500" stroke-width="0.8"/>
<ellipse cx="464.5" cy="310.0" rx="4.0" ry="9.5" transform="rotate(-5 464.5 310.0)" fill="#c80a0a" stroke="#500" stroke-width="0.8"/>
<path d="M481,325.8 L496,330.8" fill="none" stroke="#4a0000" stroke-width="2.2"/>
<path d="M571.5,356.8 L586.3,361.8" fill="none" stroke="#4a0000" stroke-width="2.2"/>
<path d="M642,385 L664,376 L668,406 L656,413 L644,410 Z" fill="url(#gout)" stroke="#2a0000" stroke-width="0.8"/>
<path d="M648.6,387 L680.8,372.4" fill="none" stroke="#111" stroke-width="2.4"/>
<path d="M676,370 Q683,369 683,374 L679,377" fill="none" stroke="#222" stroke-width="1.6"/>
<ellipse cx="665.7" cy="393.5" rx="5.0" ry="16.0" transform="rotate(-8 665.7 393.5)" fill="#3434c8" stroke="#10106a" stroke-width="1"/>
<circle cx="670.0" cy="398.5" r="1.8" fill="#1a1a8a"/>
<circle cx="667.2" cy="407.2" r="1.8" fill="#1a1a8a"/>
<circle cx="663.2" cy="405.7" r="1.8" fill="#1a1a8a"/>
<circle cx="661.1" cy="394.9" r="1.8" fill="#1a1a8a"/>
<circle cx="662.5" cy="383.1" r="1.8" fill="#1a1a8a"/>
<circle cx="666.3" cy="379.1" r="1.8" fill="#1a1a8a"/>
<circle cx="669.6" cy="385.9" r="1.8" fill="#1a1a8a"/>
<ellipse cx="663.0" cy="393.5" rx="3.0" ry="12.0" transform="rotate(-8 663.0 393.5)" fill="#900606" stroke="#300" stroke-width="0.8"/>
<path d="M670,381 L688,385 L704,389 L706,405 L690,406 L672,407 Z" fill="url(#gop1)" stroke="#400" stroke-width="0.6"/>
<ellipse cx="673.0" cy="394.0" rx="4.5" ry="12.5" transform="rotate(-12 673.0 394.0)" fill="#d01010" stroke="#400" stroke-width="0.8"/>
<path d="M692.4,388.8 L710.4,392.8 L705.6,414.2 L687.6,410.2Z" fill="url(#gcpl1)" stroke="#300" stroke-width="0.7"/>
<ellipse cx="690.0" cy="399.5" rx="4.0" ry="11.0" transform="rotate(-12 690.0 399.5)" fill="#b00808" stroke="#300" stroke-width="0.9"/>
<path d="M696,389 L694,410 M701,390.5 L699,411.5" fill="none" stroke="#500" stroke-width="0.8"/>
<circle cx="697" cy="407" r="1.3" fill="#c8a050"/><circle cx="703" cy="409" r="1.3" fill="#c8a050"/>
<path d="M662.1,437.1 L782.1,368.1 L795.9,391.9 L675.9,460.9Z" fill="url(#gfilt)" stroke="#000" stroke-width="0.6"/>
<ellipse cx="669.0" cy="449.0" rx="6.8" ry="13.8" transform="rotate(-29 669.0 449.0)" fill="#151515" stroke="#000" stroke-width="0.6"/>
<circle cx="675.5" cy="444.3" r="1.1" fill="#3a3a3a"/>
<circle cx="677.5" cy="448.8" r="1.1" fill="#3a3a3a"/>
<circle cx="678.1" cy="452.9" r="1.1" fill="#3a3a3a"/>
<circle cx="677.3" cy="455.8" r="1.1" fill="#3a3a3a"/>
<circle cx="675.3" cy="456.9" r="1.1" fill="#3a3a3a"/>
<circle cx="672.4" cy="456.0" r="1.1" fill="#3a3a3a"/>
<circle cx="669.3" cy="453.3" r="1.1" fill="#3a3a3a"/>
<circle cx="666.5" cy="449.3" r="1.1" fill="#3a3a3a"/>
<circle cx="664.5" cy="444.8" r="1.1" fill="#3a3a3a"/>
<circle cx="663.9" cy="440.7" r="1.1" fill="#3a3a3a"/>
<circle cx="664.7" cy="437.8" r="1.1" fill="#3a3a3a"/>
<circle cx="666.7" cy="436.7" r="1.1" fill="#3a3a3a"/>
<circle cx="669.6" cy="437.6" r="1.1" fill="#3a3a3a"/>
<circle cx="672.7" cy="440.3" r="1.1" fill="#3a3a3a"/>
<ellipse cx="667.5" cy="449.0" rx="3.5" ry="7.5" transform="rotate(-29 667.5 449.0)" fill="#222" stroke="#111" stroke-width="0.8"/>
<ellipse cx="789.0" cy="380.0" rx="7.5" ry="13.8" transform="rotate(-29 789.0 380.0)" fill="url(#gfe)" stroke="#000" stroke-width="0.6"/>
<path d="M707.7,407.2 L741.7,388.2 L758.3,417.8 L724.3,436.8Z" fill="url(#ghub)" stroke="#000" stroke-width="0.6"/>
<path d="M706,398 L716,394 L722,428 L712,414 Z" fill="#141414" stroke="none" stroke-width="1"/>
<path d="M748,408 L758,412 L756,428 L746,430 Z" fill="#141414" stroke="none" stroke-width="1"/>
<ellipse cx="722.0" cy="419.0" rx="6.5" ry="17.0" transform="rotate(-29 722.0 419.0)" fill="#1c1c1c" stroke="#000" stroke-width="1.2"/>
<path d="M716.5,410 A6,15.5 -29 0 1 724,428" fill="none" stroke="#6a6a6a" stroke-width="1"/>
<ellipse cx="744.0" cy="406.0" rx="6.5" ry="17.0" transform="rotate(-29 744.0 406.0)" fill="#1c1c1c" stroke="#000" stroke-width="1.2"/>
<path d="M738.5,397 A6,15.5 -29 0 1 746,415" fill="none" stroke="#6a6a6a" stroke-width="1"/>
<path d="M728,396 L742,392 M730,402 L746,398" fill="none" stroke="#3a3a3a" stroke-width="1.2"/>
<ellipse cx="727.0" cy="397.0" rx="4.5" ry="3.2" transform="rotate(0 727.0 397.0)" fill="#0a0a0a" stroke="none" stroke-width="1"/>
<path d="M735,432 L735,442 L738.5,442 L738.5,431Z" fill="#111" stroke="none" stroke-width="1"/>
<path d="M746,409 L778,415 L780,440 L748,433 Z" fill="url(#gop2)" stroke="#400" stroke-width="0.6"/>
<path d="M747.7,407.8 L764.7,411.8 L759.3,435.2 L742.3,431.2Z" fill="url(#gcpl2)" stroke="#300" stroke-width="0.7"/>
<ellipse cx="762.0" cy="423.5" rx="4.2" ry="12.0" transform="rotate(-12 762.0 423.5)" fill="#c00808" stroke="#300" stroke-width="0.9"/>
<path d="M751,409 L749,431 M756,410 L754,432" fill="none" stroke="#500" stroke-width="0.8"/>
<circle cx="751" cy="432" r="1.3" fill="#c8a050"/><circle cx="753" cy="409.5" r="1.3" fill="#c8a050"/>
<ellipse cx="783.0" cy="429.0" rx="7.7" ry="14.7" transform="rotate(-10 783.0 429.0)" fill="url(#gfl)" stroke="#400" stroke-width="0.8"/>
<ellipse cx="784.5" cy="429.0" rx="4.0" ry="8.5" transform="rotate(-10 784.5 429.0)" fill="#f04a40" stroke="#600" stroke-width="0.8"/>
<path d="M770,441 L773,441 L771.8,472 L769,472 Z" fill="#c00808" stroke="#600" stroke-width="0.5"/>
<ellipse cx="770.4" cy="474.0" rx="12.5" ry="5.0" transform="rotate(0 770.4 474.0)" fill="#e01010" stroke="#800" stroke-width="0.6"/>
<text x="10" y="20" font-size="13" textLength="140" lengthAdjust="spacingAndGlyphs">Воздушный клапан 1"</text>
<text x="224" y="61.7" font-size="13" textLength="165" lengthAdjust="spacingAndGlyphs">Дренажный коллектор 2"</text>
<text x="243.7" y="150.5" font-size="11" textLength="42" lengthAdjust="spacingAndGlyphs">Затвор</text>
<text x="243.7" y="163.5" font-size="11" textLength="77" lengthAdjust="spacingAndGlyphs">дисковый 5"</text>
<text x="366.5" y="163" font-size="12" textLength="8.5" lengthAdjust="spacingAndGlyphs">A</text>
<text x="51.4" y="202.3" font-size="11.5" textLength="8.4" lengthAdjust="spacingAndGlyphs">A</text>
<text x="374" y="243.8" font-size="13" textLength="54" lengthAdjust="spacingAndGlyphs">Выход 5"</text>
<text x="26.9" y="267.9" font-size="12" textLength="43.6" lengthAdjust="spacingAndGlyphs">Вход 5"</text>
<text x="120" y="280.8" font-size="12" textLength="47.7" lengthAdjust="spacingAndGlyphs">Слив 2"</text>
<text x="131.2" y="304.8" font-size="12.5" textLength="26.7" lengthAdjust="spacingAndGlyphs">1000</text>
<text x="163.9" y="327.8" font-size="13" textLength="59.4" lengthAdjust="spacingAndGlyphs">2992±100</text>
<text x="8" y="372" font-size="12.5" textLength="113" lengthAdjust="spacingAndGlyphs">Фильтр - емкость</text>
<text x="154" y="366" font-size="12.5" textLength="87" lengthAdjust="spacingAndGlyphs">Переход 5"-6"</text>
<text x="340.7" y="384.7" font-size="12.5" textLength="43.5" lengthAdjust="spacingAndGlyphs">Фильтр</text>
<text x="340.7" y="400.7" font-size="12.5" textLength="87" lengthAdjust="spacingAndGlyphs">сетчатый DE6</text>
<text x="356" y="501.8" font-size="12.5" textLength="88.6" lengthAdjust="spacingAndGlyphs">Переход 5"-6"</text>
<text x="183" y="553.8" font-size="12.5" textLength="47.5" lengthAdjust="spacingAndGlyphs">Кран 1"</text>
<text x="573.8" y="129" font-size="12.5" textLength="217" lengthAdjust="spacingAndGlyphs">Контроллер обратной промывки</text>
<text x="668.7" y="198.8" font-size="12.5" textLength="110" lengthAdjust="spacingAndGlyphs">Автоклапан 4"-2"</text>
<text transform="translate(439.2,198.8) rotate(-90)" font-size="13" textLength="52.8" lengthAdjust="spacingAndGlyphs">2277±25</text>
<text transform="translate(142.2,231.6) rotate(-90)" font-size="13" textLength="71" lengthAdjust="spacingAndGlyphs">Ø1200 (40")</text>
<path d="M573.8,133 L708.5,133 M574.7,133 L574.7,168" stroke="#1a1a1a" stroke-width="0.8" fill="none"/>
<path d="M778.8,203.4 L648.8,203.4 L636,216" stroke="#1a1a1a" stroke-width="0.8" fill="none"/>
<path d="M631.6,221 L633.5,215 L637.5,218.5Z" fill="#1a1a1a"/>
</svg></body></html>
